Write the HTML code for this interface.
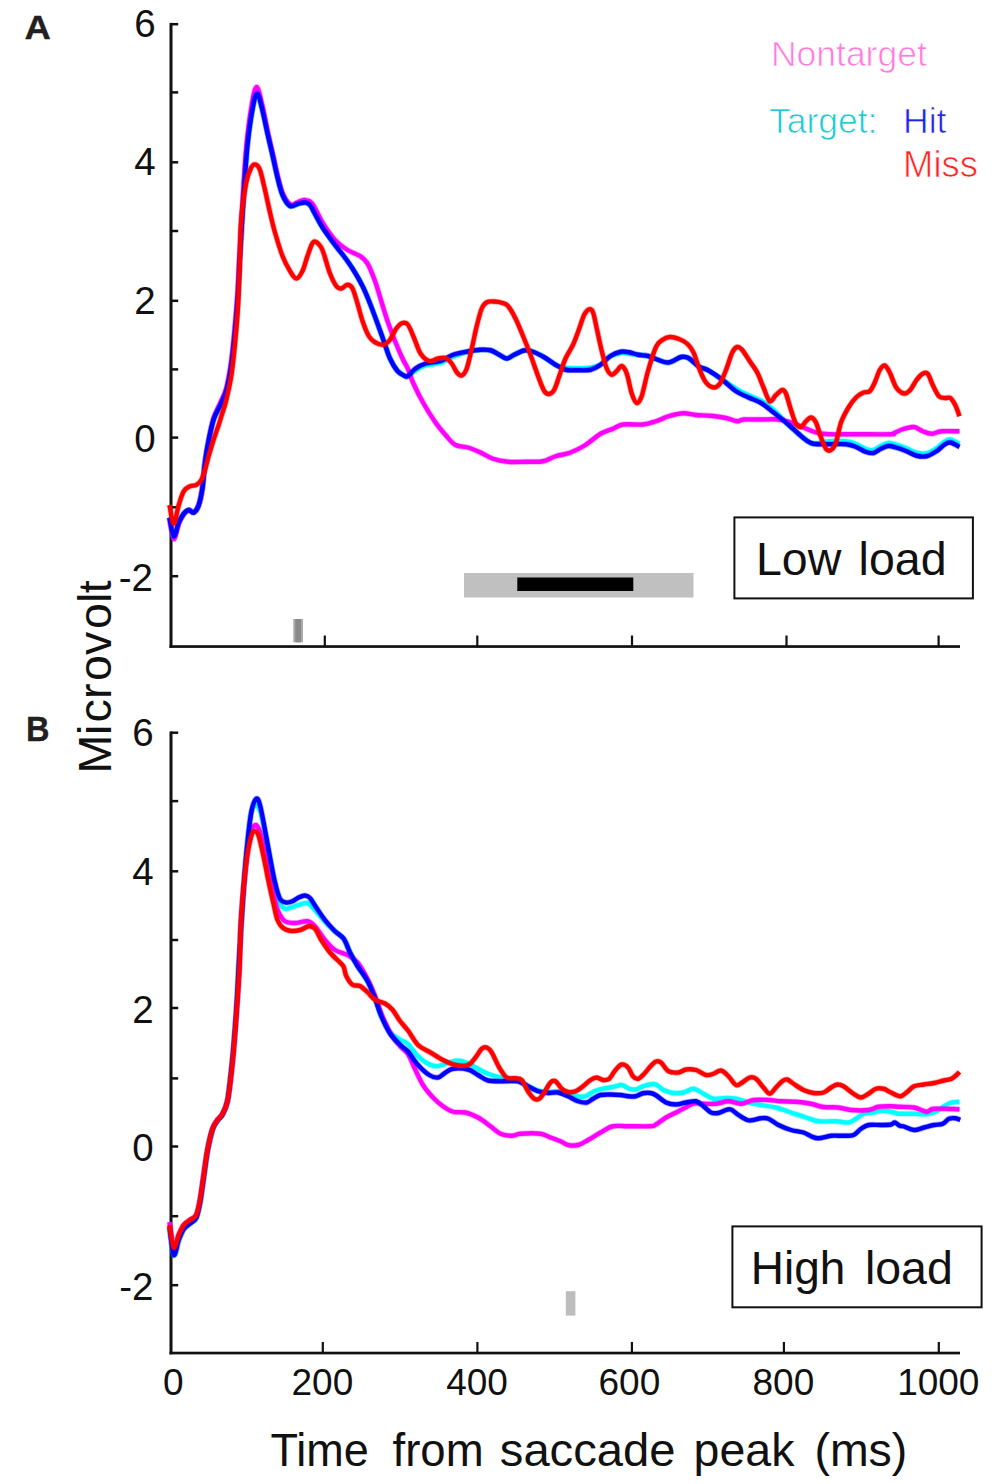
<!DOCTYPE html>
<html><head><meta charset="utf-8"><title>ERP figure</title>
<style>
html,body{margin:0;padding:0;background:#fff;overflow:hidden}
svg{display:block;font-family:"Liberation Sans",sans-serif;}
</style></head>
<body>
<svg width="992" height="1484" viewBox="0 0 992 1484">
<rect width="992" height="1484" fill="#fff"/>
<rect x="169.5" y="22.9" width="3" height="624.9" fill="#111"/><rect x="169.5" y="645.2" width="790.5" height="2.7" fill="#111"/><rect x="171" y="22.95" width="7.2" height="2.5" fill="#111"/><rect x="171" y="91.15" width="7.2" height="2.5" fill="#111"/><rect x="171" y="161.05" width="7.2" height="2.5" fill="#111"/><rect x="171" y="229.75" width="7.2" height="2.5" fill="#111"/><rect x="171" y="299.55" width="7.2" height="2.5" fill="#111"/><rect x="171" y="368.15" width="7.2" height="2.5" fill="#111"/><rect x="171" y="436.35" width="7.2" height="2.5" fill="#111"/><rect x="171" y="506.05" width="7.2" height="2.5" fill="#111"/><rect x="171" y="574.95" width="7.2" height="2.5" fill="#111"/><rect x="323.7" y="635.5" width="2.2" height="11" fill="#111"/><rect x="476.2" y="635.5" width="2.2" height="11" fill="#111"/><rect x="630.9" y="635.5" width="2.2" height="11" fill="#111"/><rect x="785.4" y="635.5" width="2.2" height="11" fill="#111"/><rect x="937.5" y="635.5" width="2.2" height="11" fill="#111"/>
<rect x="169.5" y="731.4" width="3" height="622.9" fill="#111"/><rect x="169.5" y="1351.7" width="790.5" height="2.7" fill="#111"/><rect x="171" y="731.45" width="7.2" height="2.5" fill="#111"/><rect x="171" y="799.85" width="7.2" height="2.5" fill="#111"/><rect x="171" y="870.05" width="7.2" height="2.5" fill="#111"/><rect x="171" y="938.75" width="7.2" height="2.5" fill="#111"/><rect x="171" y="1006.75" width="7.2" height="2.5" fill="#111"/><rect x="171" y="1077.15" width="7.2" height="2.5" fill="#111"/><rect x="171" y="1145.25" width="7.2" height="2.5" fill="#111"/><rect x="171" y="1214.95" width="7.2" height="2.5" fill="#111"/><rect x="171" y="1283.95" width="7.2" height="2.5" fill="#111"/><rect x="321.7" y="1342.0" width="2.2" height="11" fill="#111"/><rect x="476.3" y="1342.0" width="2.2" height="11" fill="#111"/><rect x="630.8" y="1342.0" width="2.2" height="11" fill="#111"/><rect x="782.8" y="1342.0" width="2.2" height="11" fill="#111"/><rect x="937.7" y="1342.0" width="2.2" height="11" fill="#111"/>
<rect x="464" y="573" width="229.5" height="24.5" fill="#c0c0c0"/>
<rect x="517.3" y="577.5" width="116" height="13.5" fill="#000"/>
<rect x="293.3" y="619" width="9.7" height="23.3" fill="#aaaaaa"/>
<rect x="295.3" y="619" width="5.7" height="23.3" fill="#8a8a8a"/>
<rect x="565.8" y="1291.2" width="9.6" height="24.4" fill="#bdbdbd"/>
<path d="M169.50,517.50C170.21,520.62 172.21,535.42 173.75,536.25C175.29,537.08 177.08,526.25 178.75,522.50C180.42,518.75 182.08,515.83 183.75,513.75C185.42,511.67 187.08,510.21 188.75,510.00C190.42,509.79 192.08,513.33 193.75,512.50C195.42,511.67 197.29,509.17 198.75,505.00C200.21,500.83 201.46,494.58 202.50,487.50C203.54,480.42 203.96,470.42 205.00,462.50C206.04,454.58 207.29,447.25 208.75,440.00C210.21,432.75 211.88,424.67 213.75,419.00C215.62,413.33 217.92,410.67 220.00,406.00C222.08,401.33 224.38,397.67 226.25,391.00C228.12,384.33 229.79,375.83 231.25,366.00C232.71,356.17 233.88,343.83 235.00,332.00C236.12,320.17 237.17,307.67 238.00,295.00C238.83,282.33 239.04,272.67 240.00,256.00C240.96,239.33 242.50,213.50 243.75,195.00C245.00,176.50 245.99,159.58 247.50,145.00C249.01,130.42 251.20,116.08 252.80,107.50C254.40,98.92 255.60,93.50 257.10,93.50C258.60,93.50 260.10,101.00 261.80,107.50C263.50,114.00 265.52,124.58 267.30,132.50C269.08,140.42 270.80,147.50 272.50,155.00C274.20,162.50 275.83,170.83 277.50,177.50C279.17,184.17 280.42,190.25 282.50,195.00C284.58,199.75 287.50,204.50 290.00,206.00C292.50,207.50 295.00,204.58 297.50,204.00C300.00,203.42 302.92,202.33 305.00,202.50C307.08,202.67 308.33,203.08 310.00,205.00C311.67,206.92 312.92,210.25 315.00,214.00C317.08,217.75 319.17,222.33 322.50,227.50C325.83,232.67 331.46,240.25 335.00,245.00C338.54,249.75 340.83,252.08 343.75,256.00C346.67,259.92 349.38,263.50 352.50,268.50C355.62,273.50 359.58,280.17 362.50,286.00C365.42,291.83 367.50,297.25 370.00,303.50C372.50,309.75 375.21,317.25 377.50,323.50C379.79,329.75 381.67,335.17 383.75,341.00C385.83,346.83 387.71,353.50 390.00,358.50C392.29,363.50 395.00,368.08 397.50,371.00C400.00,373.92 403.25,375.17 405.00,376.00C406.75,376.83 406.25,376.92 408.00,376.00C409.75,375.08 412.58,372.25 415.50,370.50C418.42,368.75 421.33,366.75 425.50,365.50C429.67,364.25 435.92,364.46 440.50,363.00C445.08,361.54 448.42,358.67 453.00,356.75C457.58,354.83 463.42,352.67 468.00,351.50C472.58,350.33 476.75,349.96 480.50,349.75C484.25,349.54 487.38,349.42 490.50,350.25C493.62,351.08 496.54,353.38 499.25,354.75C501.96,356.12 504.25,358.50 506.75,358.50C509.25,358.50 511.33,356.08 514.25,354.75C517.17,353.42 521.12,351.00 524.25,350.50C527.38,350.00 529.67,350.62 533.00,351.75C536.33,352.88 540.50,355.08 544.25,357.25C548.00,359.42 551.96,363.00 555.50,364.75C559.04,366.50 561.75,367.17 565.50,367.75C569.25,368.33 573.83,368.25 578.00,368.25C582.17,368.25 586.75,368.33 590.50,367.75C594.25,367.17 597.17,366.71 600.50,364.75C603.83,362.79 607.17,357.92 610.50,356.00C613.83,354.08 617.38,353.62 620.50,353.25C623.62,352.88 626.33,353.50 629.25,353.75C632.17,354.00 634.88,354.38 638.00,354.75C641.12,355.12 645.00,355.29 648.00,356.00C651.00,356.71 652.58,357.92 656.00,359.00C659.42,360.08 664.33,362.83 668.50,362.50C672.67,362.17 677.67,357.75 681.00,357.00C684.33,356.25 685.58,356.46 688.50,358.00C691.42,359.54 695.17,364.17 698.50,366.25C701.83,368.33 704.75,368.42 708.50,370.50C712.25,372.58 716.28,375.62 721.00,378.75C725.72,381.88 732.08,386.46 736.80,389.25C741.52,392.04 745.13,393.54 749.30,395.50C753.47,397.46 757.63,398.50 761.80,401.00C765.97,403.50 770.27,406.92 774.30,410.50C778.33,414.08 781.97,418.62 786.00,422.50C790.03,426.38 795.17,430.83 798.50,433.75C801.83,436.67 803.50,438.33 806.00,440.00C808.50,441.67 809.75,443.54 813.50,443.75C817.25,443.96 823.08,441.67 828.50,441.25C833.92,440.83 841.42,440.79 846.00,441.25C850.58,441.71 852.67,442.71 856.00,444.00C859.33,445.29 863.08,448.00 866.00,449.00C868.92,450.00 871.00,450.54 873.50,450.00C876.00,449.46 878.50,446.92 881.00,445.75C883.50,444.58 886.00,443.21 888.50,443.00C891.00,442.79 893.00,443.62 896.00,444.50C899.00,445.38 903.08,446.88 906.50,448.25C909.92,449.62 913.17,451.92 916.50,452.75C919.83,453.58 923.17,454.00 926.50,453.25C929.83,452.50 933.58,450.12 936.50,448.25C939.42,446.38 941.71,443.46 944.00,442.00C946.29,440.54 947.67,439.17 950.25,439.50C952.83,439.83 957.96,443.25 959.50,444.00" fill="none" stroke="#00ffff" stroke-opacity="0.3" stroke-width="6.0" stroke-linejoin="round" stroke-linecap="butt"/><path d="M169.50,517.50C170.21,520.62 172.21,535.42 173.75,536.25C175.29,537.08 177.08,526.25 178.75,522.50C180.42,518.75 182.08,515.83 183.75,513.75C185.42,511.67 187.08,510.21 188.75,510.00C190.42,509.79 192.08,513.33 193.75,512.50C195.42,511.67 197.29,509.17 198.75,505.00C200.21,500.83 201.46,494.58 202.50,487.50C203.54,480.42 203.96,470.42 205.00,462.50C206.04,454.58 207.29,447.25 208.75,440.00C210.21,432.75 211.88,424.67 213.75,419.00C215.62,413.33 217.92,410.67 220.00,406.00C222.08,401.33 224.38,397.67 226.25,391.00C228.12,384.33 229.79,375.83 231.25,366.00C232.71,356.17 233.88,343.83 235.00,332.00C236.12,320.17 237.17,307.67 238.00,295.00C238.83,282.33 239.04,272.67 240.00,256.00C240.96,239.33 242.50,213.50 243.75,195.00C245.00,176.50 245.99,159.58 247.50,145.00C249.01,130.42 251.20,116.08 252.80,107.50C254.40,98.92 255.60,93.50 257.10,93.50C258.60,93.50 260.10,101.00 261.80,107.50C263.50,114.00 265.52,124.58 267.30,132.50C269.08,140.42 270.80,147.50 272.50,155.00C274.20,162.50 275.83,170.83 277.50,177.50C279.17,184.17 280.42,190.25 282.50,195.00C284.58,199.75 287.50,204.50 290.00,206.00C292.50,207.50 295.00,204.58 297.50,204.00C300.00,203.42 302.92,202.33 305.00,202.50C307.08,202.67 308.33,203.08 310.00,205.00C311.67,206.92 312.92,210.25 315.00,214.00C317.08,217.75 319.17,222.33 322.50,227.50C325.83,232.67 331.46,240.25 335.00,245.00C338.54,249.75 340.83,252.08 343.75,256.00C346.67,259.92 349.38,263.50 352.50,268.50C355.62,273.50 359.58,280.17 362.50,286.00C365.42,291.83 367.50,297.25 370.00,303.50C372.50,309.75 375.21,317.25 377.50,323.50C379.79,329.75 381.67,335.17 383.75,341.00C385.83,346.83 387.71,353.50 390.00,358.50C392.29,363.50 395.00,368.08 397.50,371.00C400.00,373.92 403.25,375.17 405.00,376.00C406.75,376.83 406.25,376.92 408.00,376.00C409.75,375.08 412.58,372.25 415.50,370.50C418.42,368.75 421.33,366.75 425.50,365.50C429.67,364.25 435.92,364.46 440.50,363.00C445.08,361.54 448.42,358.67 453.00,356.75C457.58,354.83 463.42,352.67 468.00,351.50C472.58,350.33 476.75,349.96 480.50,349.75C484.25,349.54 487.38,349.42 490.50,350.25C493.62,351.08 496.54,353.38 499.25,354.75C501.96,356.12 504.25,358.50 506.75,358.50C509.25,358.50 511.33,356.08 514.25,354.75C517.17,353.42 521.12,351.00 524.25,350.50C527.38,350.00 529.67,350.62 533.00,351.75C536.33,352.88 540.50,355.08 544.25,357.25C548.00,359.42 551.96,363.00 555.50,364.75C559.04,366.50 561.75,367.17 565.50,367.75C569.25,368.33 573.83,368.25 578.00,368.25C582.17,368.25 586.75,368.33 590.50,367.75C594.25,367.17 597.17,366.71 600.50,364.75C603.83,362.79 607.17,357.92 610.50,356.00C613.83,354.08 617.38,353.62 620.50,353.25C623.62,352.88 626.33,353.50 629.25,353.75C632.17,354.00 634.88,354.38 638.00,354.75C641.12,355.12 645.00,355.29 648.00,356.00C651.00,356.71 652.58,357.92 656.00,359.00C659.42,360.08 664.33,362.83 668.50,362.50C672.67,362.17 677.67,357.75 681.00,357.00C684.33,356.25 685.58,356.46 688.50,358.00C691.42,359.54 695.17,364.17 698.50,366.25C701.83,368.33 704.75,368.42 708.50,370.50C712.25,372.58 716.28,375.62 721.00,378.75C725.72,381.88 732.08,386.46 736.80,389.25C741.52,392.04 745.13,393.54 749.30,395.50C753.47,397.46 757.63,398.50 761.80,401.00C765.97,403.50 770.27,406.92 774.30,410.50C778.33,414.08 781.97,418.62 786.00,422.50C790.03,426.38 795.17,430.83 798.50,433.75C801.83,436.67 803.50,438.33 806.00,440.00C808.50,441.67 809.75,443.54 813.50,443.75C817.25,443.96 823.08,441.67 828.50,441.25C833.92,440.83 841.42,440.79 846.00,441.25C850.58,441.71 852.67,442.71 856.00,444.00C859.33,445.29 863.08,448.00 866.00,449.00C868.92,450.00 871.00,450.54 873.50,450.00C876.00,449.46 878.50,446.92 881.00,445.75C883.50,444.58 886.00,443.21 888.50,443.00C891.00,442.79 893.00,443.62 896.00,444.50C899.00,445.38 903.08,446.88 906.50,448.25C909.92,449.62 913.17,451.92 916.50,452.75C919.83,453.58 923.17,454.00 926.50,453.25C929.83,452.50 933.58,450.12 936.50,448.25C939.42,446.38 941.71,443.46 944.00,442.00C946.29,440.54 947.67,439.17 950.25,439.50C952.83,439.83 957.96,443.25 959.50,444.00" fill="none" stroke="#00ffff" stroke-width="4.4" stroke-linejoin="round" stroke-linecap="butt"/>
<path d="M169.50,518.00C170.21,521.50 172.21,538.00 173.75,539.00C175.29,540.00 177.08,528.17 178.75,524.00C180.42,519.83 182.08,516.33 183.75,514.00C185.42,511.67 187.08,510.25 188.75,510.00C190.42,509.75 192.08,513.33 193.75,512.50C195.42,511.67 197.29,509.17 198.75,505.00C200.21,500.83 201.46,494.58 202.50,487.50C203.54,480.42 203.96,470.42 205.00,462.50C206.04,454.58 207.29,447.42 208.75,440.00C210.21,432.58 211.88,424.08 213.75,418.00C215.62,411.92 217.92,408.42 220.00,403.50C222.08,398.58 224.42,395.17 226.25,388.50C228.08,381.83 229.62,373.08 231.00,363.50C232.38,353.92 233.42,342.42 234.50,331.00C235.58,319.58 236.67,307.50 237.50,295.00C238.33,282.50 238.58,272.67 239.50,256.00C240.42,239.33 241.83,213.50 243.00,195.00C244.17,176.50 245.02,160.17 246.50,145.00C247.98,129.83 250.22,113.67 251.90,104.00C253.58,94.33 254.92,87.00 256.60,87.00C258.28,87.00 260.13,96.42 262.00,104.00C263.87,111.58 265.97,124.00 267.80,132.50C269.63,141.00 271.30,147.50 273.00,155.00C274.70,162.50 276.33,171.00 278.00,177.50C279.67,184.00 280.92,189.50 283.00,194.00C285.08,198.50 288.00,203.17 290.50,204.50C293.00,205.83 295.58,202.75 298.00,202.00C300.42,201.25 302.58,199.71 305.00,200.00C307.42,200.29 309.58,200.00 312.50,203.75C315.42,207.50 318.75,216.46 322.50,222.50C326.25,228.54 330.83,235.42 335.00,240.00C339.17,244.58 343.33,247.33 347.50,250.00C351.67,252.67 356.67,253.75 360.00,256.00C363.33,258.25 365.00,259.33 367.50,263.50C370.00,267.67 372.71,274.75 375.00,281.00C377.29,287.25 379.17,294.33 381.25,301.00C383.33,307.67 385.21,314.33 387.50,321.00C389.79,327.67 392.50,334.75 395.00,341.00C397.50,347.25 400.33,353.83 402.50,358.50C404.67,363.17 406.25,365.00 408.00,369.00C409.75,373.00 410.50,376.92 413.00,382.50C415.50,388.08 419.25,395.83 423.00,402.50C426.75,409.17 431.75,417.08 435.50,422.50C439.25,427.92 442.17,431.25 445.50,435.00C448.83,438.75 451.75,442.92 455.50,445.00C459.25,447.08 463.83,446.25 468.00,447.50C472.17,448.75 476.33,450.62 480.50,452.50C484.67,454.38 488.42,457.21 493.00,458.75C497.58,460.29 502.58,461.25 508.00,461.75C513.42,462.25 519.67,461.83 525.50,461.75C531.33,461.67 538.00,462.17 543.00,461.25C548.00,460.33 550.92,457.71 555.50,456.25C560.08,454.79 565.50,454.38 570.50,452.50C575.50,450.62 580.50,448.12 585.50,445.00C590.50,441.88 595.92,436.46 600.50,433.75C605.08,431.04 609.25,430.29 613.00,428.75C616.75,427.21 618.00,425.21 623.00,424.50C628.00,423.79 637.50,425.04 643.00,424.50C648.50,423.96 651.75,422.62 656.00,421.25C660.25,419.88 663.92,417.58 668.50,416.25C673.08,414.92 678.92,413.46 683.50,413.25C688.08,413.04 691.42,414.58 696.00,415.00C700.58,415.42 706.00,415.25 711.00,415.75C716.00,416.25 721.62,417.08 726.00,418.00C730.38,418.92 734.33,421.00 737.25,421.25C740.17,421.50 739.54,419.79 743.50,419.50C747.46,419.21 755.17,419.50 761.00,419.50C766.83,419.50 773.50,419.00 778.50,419.50C783.50,420.00 786.83,421.17 791.00,422.50C795.17,423.83 799.33,425.83 803.50,427.50C807.67,429.17 811.83,431.38 816.00,432.50C820.17,433.62 821.83,433.96 828.50,434.25C835.17,434.54 845.58,434.25 856.00,434.25C866.42,434.25 884.67,434.46 891.00,434.25C897.33,434.04 891.83,433.92 894.00,433.00C896.17,432.08 900.67,429.75 904.00,428.75C907.33,427.75 910.88,426.58 914.00,427.00C917.12,427.42 919.83,430.12 922.75,431.25C925.67,432.38 928.38,433.75 931.50,433.75C934.62,433.75 936.83,431.67 941.50,431.25C946.17,430.83 956.50,431.25 959.50,431.25" fill="none" stroke="#ff00ff" stroke-opacity="0.3" stroke-width="6.0" stroke-linejoin="round" stroke-linecap="butt"/><path d="M169.50,518.00C170.21,521.50 172.21,538.00 173.75,539.00C175.29,540.00 177.08,528.17 178.75,524.00C180.42,519.83 182.08,516.33 183.75,514.00C185.42,511.67 187.08,510.25 188.75,510.00C190.42,509.75 192.08,513.33 193.75,512.50C195.42,511.67 197.29,509.17 198.75,505.00C200.21,500.83 201.46,494.58 202.50,487.50C203.54,480.42 203.96,470.42 205.00,462.50C206.04,454.58 207.29,447.42 208.75,440.00C210.21,432.58 211.88,424.08 213.75,418.00C215.62,411.92 217.92,408.42 220.00,403.50C222.08,398.58 224.42,395.17 226.25,388.50C228.08,381.83 229.62,373.08 231.00,363.50C232.38,353.92 233.42,342.42 234.50,331.00C235.58,319.58 236.67,307.50 237.50,295.00C238.33,282.50 238.58,272.67 239.50,256.00C240.42,239.33 241.83,213.50 243.00,195.00C244.17,176.50 245.02,160.17 246.50,145.00C247.98,129.83 250.22,113.67 251.90,104.00C253.58,94.33 254.92,87.00 256.60,87.00C258.28,87.00 260.13,96.42 262.00,104.00C263.87,111.58 265.97,124.00 267.80,132.50C269.63,141.00 271.30,147.50 273.00,155.00C274.70,162.50 276.33,171.00 278.00,177.50C279.67,184.00 280.92,189.50 283.00,194.00C285.08,198.50 288.00,203.17 290.50,204.50C293.00,205.83 295.58,202.75 298.00,202.00C300.42,201.25 302.58,199.71 305.00,200.00C307.42,200.29 309.58,200.00 312.50,203.75C315.42,207.50 318.75,216.46 322.50,222.50C326.25,228.54 330.83,235.42 335.00,240.00C339.17,244.58 343.33,247.33 347.50,250.00C351.67,252.67 356.67,253.75 360.00,256.00C363.33,258.25 365.00,259.33 367.50,263.50C370.00,267.67 372.71,274.75 375.00,281.00C377.29,287.25 379.17,294.33 381.25,301.00C383.33,307.67 385.21,314.33 387.50,321.00C389.79,327.67 392.50,334.75 395.00,341.00C397.50,347.25 400.33,353.83 402.50,358.50C404.67,363.17 406.25,365.00 408.00,369.00C409.75,373.00 410.50,376.92 413.00,382.50C415.50,388.08 419.25,395.83 423.00,402.50C426.75,409.17 431.75,417.08 435.50,422.50C439.25,427.92 442.17,431.25 445.50,435.00C448.83,438.75 451.75,442.92 455.50,445.00C459.25,447.08 463.83,446.25 468.00,447.50C472.17,448.75 476.33,450.62 480.50,452.50C484.67,454.38 488.42,457.21 493.00,458.75C497.58,460.29 502.58,461.25 508.00,461.75C513.42,462.25 519.67,461.83 525.50,461.75C531.33,461.67 538.00,462.17 543.00,461.25C548.00,460.33 550.92,457.71 555.50,456.25C560.08,454.79 565.50,454.38 570.50,452.50C575.50,450.62 580.50,448.12 585.50,445.00C590.50,441.88 595.92,436.46 600.50,433.75C605.08,431.04 609.25,430.29 613.00,428.75C616.75,427.21 618.00,425.21 623.00,424.50C628.00,423.79 637.50,425.04 643.00,424.50C648.50,423.96 651.75,422.62 656.00,421.25C660.25,419.88 663.92,417.58 668.50,416.25C673.08,414.92 678.92,413.46 683.50,413.25C688.08,413.04 691.42,414.58 696.00,415.00C700.58,415.42 706.00,415.25 711.00,415.75C716.00,416.25 721.62,417.08 726.00,418.00C730.38,418.92 734.33,421.00 737.25,421.25C740.17,421.50 739.54,419.79 743.50,419.50C747.46,419.21 755.17,419.50 761.00,419.50C766.83,419.50 773.50,419.00 778.50,419.50C783.50,420.00 786.83,421.17 791.00,422.50C795.17,423.83 799.33,425.83 803.50,427.50C807.67,429.17 811.83,431.38 816.00,432.50C820.17,433.62 821.83,433.96 828.50,434.25C835.17,434.54 845.58,434.25 856.00,434.25C866.42,434.25 884.67,434.46 891.00,434.25C897.33,434.04 891.83,433.92 894.00,433.00C896.17,432.08 900.67,429.75 904.00,428.75C907.33,427.75 910.88,426.58 914.00,427.00C917.12,427.42 919.83,430.12 922.75,431.25C925.67,432.38 928.38,433.75 931.50,433.75C934.62,433.75 936.83,431.67 941.50,431.25C946.17,430.83 956.50,431.25 959.50,431.25" fill="none" stroke="#ff00ff" stroke-width="4.4" stroke-linejoin="round" stroke-linecap="butt"/>
<path d="M169.50,517.50C170.21,520.62 172.21,535.42 173.75,536.25C175.29,537.08 177.08,526.25 178.75,522.50C180.42,518.75 182.08,515.83 183.75,513.75C185.42,511.67 187.08,510.21 188.75,510.00C190.42,509.79 192.08,513.33 193.75,512.50C195.42,511.67 197.29,509.17 198.75,505.00C200.21,500.83 201.46,494.58 202.50,487.50C203.54,480.42 203.96,470.42 205.00,462.50C206.04,454.58 207.29,447.25 208.75,440.00C210.21,432.75 211.88,424.67 213.75,419.00C215.62,413.33 217.92,410.67 220.00,406.00C222.08,401.33 224.38,397.67 226.25,391.00C228.12,384.33 229.79,375.83 231.25,366.00C232.71,356.17 233.88,343.83 235.00,332.00C236.12,320.17 237.17,307.67 238.00,295.00C238.83,282.33 239.04,272.67 240.00,256.00C240.96,239.33 242.50,213.50 243.75,195.00C245.00,176.50 245.99,159.58 247.50,145.00C249.01,130.42 251.20,116.08 252.80,107.50C254.40,98.92 255.60,93.50 257.10,93.50C258.60,93.50 260.10,101.00 261.80,107.50C263.50,114.00 265.52,124.58 267.30,132.50C269.08,140.42 270.80,147.50 272.50,155.00C274.20,162.50 275.83,170.83 277.50,177.50C279.17,184.17 280.42,190.25 282.50,195.00C284.58,199.75 287.50,204.50 290.00,206.00C292.50,207.50 295.00,204.58 297.50,204.00C300.00,203.42 302.92,202.33 305.00,202.50C307.08,202.67 308.33,203.08 310.00,205.00C311.67,206.92 312.92,210.25 315.00,214.00C317.08,217.75 319.17,222.33 322.50,227.50C325.83,232.67 331.46,240.25 335.00,245.00C338.54,249.75 340.83,252.08 343.75,256.00C346.67,259.92 349.38,263.50 352.50,268.50C355.62,273.50 359.58,280.17 362.50,286.00C365.42,291.83 367.50,297.25 370.00,303.50C372.50,309.75 375.21,317.25 377.50,323.50C379.79,329.75 381.67,335.17 383.75,341.00C385.83,346.83 387.71,353.50 390.00,358.50C392.29,363.50 395.00,368.08 397.50,371.00C400.00,373.92 403.25,375.17 405.00,376.00C406.75,376.83 406.25,377.25 408.00,376.00C409.75,374.75 412.58,370.58 415.50,368.50C418.42,366.42 421.33,364.75 425.50,363.50C429.67,362.25 435.92,362.46 440.50,361.00C445.08,359.54 448.42,356.33 453.00,354.75C457.58,353.17 463.42,352.33 468.00,351.50C472.58,350.67 476.75,349.96 480.50,349.75C484.25,349.54 487.38,349.42 490.50,350.25C493.62,351.08 496.54,353.38 499.25,354.75C501.96,356.12 504.25,358.50 506.75,358.50C509.25,358.50 511.33,356.08 514.25,354.75C517.17,353.42 521.12,351.00 524.25,350.50C527.38,350.00 529.67,350.62 533.00,351.75C536.33,352.88 540.50,355.08 544.25,357.25C548.00,359.42 551.96,362.67 555.50,364.75C559.04,366.83 561.75,368.83 565.50,369.75C569.25,370.67 573.83,370.25 578.00,370.25C582.17,370.25 586.75,370.67 590.50,369.75C594.25,368.83 597.17,367.04 600.50,364.75C603.83,362.46 607.17,358.17 610.50,356.00C613.83,353.83 617.38,352.38 620.50,351.75C623.62,351.12 626.33,351.75 629.25,352.25C632.17,352.75 634.88,354.12 638.00,354.75C641.12,355.38 645.00,355.29 648.00,356.00C651.00,356.71 652.58,357.92 656.00,359.00C659.42,360.08 664.33,362.83 668.50,362.50C672.67,362.17 677.67,357.75 681.00,357.00C684.33,356.25 685.58,356.46 688.50,358.00C691.42,359.54 695.17,364.17 698.50,366.25C701.83,368.33 704.75,368.42 708.50,370.50C712.25,372.58 716.42,375.29 721.00,378.75C725.58,382.21 731.42,388.12 736.00,391.25C740.58,394.38 744.33,395.54 748.50,397.50C752.67,399.46 756.83,400.50 761.00,403.00C765.17,405.50 769.33,409.25 773.50,412.50C777.67,415.75 781.83,418.96 786.00,422.50C790.17,426.04 795.17,430.83 798.50,433.75C801.83,436.67 803.50,438.33 806.00,440.00C808.50,441.67 809.75,443.04 813.50,443.75C817.25,444.46 823.08,444.17 828.50,444.25C833.92,444.33 841.42,443.79 846.00,444.25C850.58,444.71 852.67,445.71 856.00,447.00C859.33,448.29 863.08,451.00 866.00,452.00C868.92,453.00 871.00,453.54 873.50,453.00C876.00,452.46 878.50,449.92 881.00,448.75C883.50,447.58 886.00,446.21 888.50,446.00C891.00,445.79 893.00,446.62 896.00,447.50C899.00,448.38 903.08,449.88 906.50,451.25C909.92,452.62 913.17,454.92 916.50,455.75C919.83,456.58 923.17,457.00 926.50,456.25C929.83,455.50 933.58,453.12 936.50,451.25C939.42,449.38 941.71,446.46 944.00,445.00C946.29,443.54 947.67,442.17 950.25,442.50C952.83,442.83 957.96,446.25 959.50,447.00" fill="none" stroke="#0000ff" stroke-opacity="0.3" stroke-width="6.0" stroke-linejoin="round" stroke-linecap="butt"/><path d="M169.50,517.50C170.21,520.62 172.21,535.42 173.75,536.25C175.29,537.08 177.08,526.25 178.75,522.50C180.42,518.75 182.08,515.83 183.75,513.75C185.42,511.67 187.08,510.21 188.75,510.00C190.42,509.79 192.08,513.33 193.75,512.50C195.42,511.67 197.29,509.17 198.75,505.00C200.21,500.83 201.46,494.58 202.50,487.50C203.54,480.42 203.96,470.42 205.00,462.50C206.04,454.58 207.29,447.25 208.75,440.00C210.21,432.75 211.88,424.67 213.75,419.00C215.62,413.33 217.92,410.67 220.00,406.00C222.08,401.33 224.38,397.67 226.25,391.00C228.12,384.33 229.79,375.83 231.25,366.00C232.71,356.17 233.88,343.83 235.00,332.00C236.12,320.17 237.17,307.67 238.00,295.00C238.83,282.33 239.04,272.67 240.00,256.00C240.96,239.33 242.50,213.50 243.75,195.00C245.00,176.50 245.99,159.58 247.50,145.00C249.01,130.42 251.20,116.08 252.80,107.50C254.40,98.92 255.60,93.50 257.10,93.50C258.60,93.50 260.10,101.00 261.80,107.50C263.50,114.00 265.52,124.58 267.30,132.50C269.08,140.42 270.80,147.50 272.50,155.00C274.20,162.50 275.83,170.83 277.50,177.50C279.17,184.17 280.42,190.25 282.50,195.00C284.58,199.75 287.50,204.50 290.00,206.00C292.50,207.50 295.00,204.58 297.50,204.00C300.00,203.42 302.92,202.33 305.00,202.50C307.08,202.67 308.33,203.08 310.00,205.00C311.67,206.92 312.92,210.25 315.00,214.00C317.08,217.75 319.17,222.33 322.50,227.50C325.83,232.67 331.46,240.25 335.00,245.00C338.54,249.75 340.83,252.08 343.75,256.00C346.67,259.92 349.38,263.50 352.50,268.50C355.62,273.50 359.58,280.17 362.50,286.00C365.42,291.83 367.50,297.25 370.00,303.50C372.50,309.75 375.21,317.25 377.50,323.50C379.79,329.75 381.67,335.17 383.75,341.00C385.83,346.83 387.71,353.50 390.00,358.50C392.29,363.50 395.00,368.08 397.50,371.00C400.00,373.92 403.25,375.17 405.00,376.00C406.75,376.83 406.25,377.25 408.00,376.00C409.75,374.75 412.58,370.58 415.50,368.50C418.42,366.42 421.33,364.75 425.50,363.50C429.67,362.25 435.92,362.46 440.50,361.00C445.08,359.54 448.42,356.33 453.00,354.75C457.58,353.17 463.42,352.33 468.00,351.50C472.58,350.67 476.75,349.96 480.50,349.75C484.25,349.54 487.38,349.42 490.50,350.25C493.62,351.08 496.54,353.38 499.25,354.75C501.96,356.12 504.25,358.50 506.75,358.50C509.25,358.50 511.33,356.08 514.25,354.75C517.17,353.42 521.12,351.00 524.25,350.50C527.38,350.00 529.67,350.62 533.00,351.75C536.33,352.88 540.50,355.08 544.25,357.25C548.00,359.42 551.96,362.67 555.50,364.75C559.04,366.83 561.75,368.83 565.50,369.75C569.25,370.67 573.83,370.25 578.00,370.25C582.17,370.25 586.75,370.67 590.50,369.75C594.25,368.83 597.17,367.04 600.50,364.75C603.83,362.46 607.17,358.17 610.50,356.00C613.83,353.83 617.38,352.38 620.50,351.75C623.62,351.12 626.33,351.75 629.25,352.25C632.17,352.75 634.88,354.12 638.00,354.75C641.12,355.38 645.00,355.29 648.00,356.00C651.00,356.71 652.58,357.92 656.00,359.00C659.42,360.08 664.33,362.83 668.50,362.50C672.67,362.17 677.67,357.75 681.00,357.00C684.33,356.25 685.58,356.46 688.50,358.00C691.42,359.54 695.17,364.17 698.50,366.25C701.83,368.33 704.75,368.42 708.50,370.50C712.25,372.58 716.42,375.29 721.00,378.75C725.58,382.21 731.42,388.12 736.00,391.25C740.58,394.38 744.33,395.54 748.50,397.50C752.67,399.46 756.83,400.50 761.00,403.00C765.17,405.50 769.33,409.25 773.50,412.50C777.67,415.75 781.83,418.96 786.00,422.50C790.17,426.04 795.17,430.83 798.50,433.75C801.83,436.67 803.50,438.33 806.00,440.00C808.50,441.67 809.75,443.04 813.50,443.75C817.25,444.46 823.08,444.17 828.50,444.25C833.92,444.33 841.42,443.79 846.00,444.25C850.58,444.71 852.67,445.71 856.00,447.00C859.33,448.29 863.08,451.00 866.00,452.00C868.92,453.00 871.00,453.54 873.50,453.00C876.00,452.46 878.50,449.92 881.00,448.75C883.50,447.58 886.00,446.21 888.50,446.00C891.00,445.79 893.00,446.62 896.00,447.50C899.00,448.38 903.08,449.88 906.50,451.25C909.92,452.62 913.17,454.92 916.50,455.75C919.83,456.58 923.17,457.00 926.50,456.25C929.83,455.50 933.58,453.12 936.50,451.25C939.42,449.38 941.71,446.46 944.00,445.00C946.29,443.54 947.67,442.17 950.25,442.50C952.83,442.83 957.96,446.25 959.50,447.00" fill="none" stroke="#0000ff" stroke-width="4.4" stroke-linejoin="round" stroke-linecap="butt"/>
<path d="M169.50,505.00C170.21,508.12 172.21,523.75 173.75,523.75C175.29,523.75 177.08,510.42 178.75,505.00C180.42,499.58 181.88,494.38 183.75,491.25C185.62,488.12 187.92,487.29 190.00,486.25C192.08,485.21 194.38,486.04 196.25,485.00C198.12,483.96 199.79,482.50 201.25,480.00C202.71,477.50 203.71,474.17 205.00,470.00C206.29,465.83 207.58,460.00 209.00,455.00C210.42,450.00 211.92,444.92 213.50,440.00C215.08,435.08 217.08,429.83 218.50,425.50C219.92,421.17 220.78,417.92 222.00,414.00C223.22,410.08 224.26,408.33 225.80,402.00C227.34,395.67 229.72,385.75 231.25,376.00C232.78,366.25 233.88,355.17 235.00,343.50C236.12,331.83 237.17,320.58 238.00,306.00C238.83,291.42 239.46,270.33 240.00,256.00C240.54,241.67 240.21,232.25 241.25,220.00C242.29,207.75 244.58,191.25 246.25,182.50C247.92,173.75 249.67,170.50 251.25,167.50C252.83,164.50 254.29,164.08 255.75,164.50C257.21,164.92 258.46,165.75 260.00,170.00C261.54,174.25 263.33,182.92 265.00,190.00C266.67,197.08 268.33,205.42 270.00,212.50C271.67,219.58 272.92,225.25 275.00,232.50C277.08,239.75 280.00,249.58 282.50,256.00C285.00,262.42 287.71,267.25 290.00,271.00C292.29,274.75 294.17,278.50 296.25,278.50C298.33,278.50 300.62,274.75 302.50,271.00C304.38,267.25 305.83,260.67 307.50,256.00C309.17,251.33 311.04,245.33 312.50,243.00C313.96,240.67 314.79,241.25 316.25,242.00C317.71,242.75 319.88,245.17 321.25,247.50C322.62,249.83 323.04,251.67 324.50,256.00C325.96,260.33 328.04,268.50 330.00,273.50C331.96,278.50 334.38,283.50 336.25,286.00C338.12,288.50 339.38,288.71 341.25,288.50C343.12,288.29 345.62,284.75 347.50,284.75C349.38,284.75 350.83,285.38 352.50,288.50C354.17,291.62 355.83,298.08 357.50,303.50C359.17,308.92 360.62,315.58 362.50,321.00C364.38,326.42 366.67,332.46 368.75,336.00C370.83,339.54 372.50,340.79 375.00,342.25C377.50,343.71 381.25,345.17 383.75,344.75C386.25,344.33 387.92,342.46 390.00,339.75C392.08,337.04 394.17,331.29 396.25,328.50C398.33,325.71 400.54,323.62 402.50,323.00C404.46,322.38 406.04,322.17 408.00,324.75C409.96,327.33 412.17,333.71 414.25,338.50C416.33,343.29 418.00,349.75 420.50,353.50C423.00,357.25 426.33,360.17 429.25,361.00C432.17,361.83 435.29,359.00 438.00,358.50C440.71,358.00 443.21,357.17 445.50,358.00C447.79,358.83 449.88,361.12 451.75,363.50C453.62,365.88 455.08,370.25 456.75,372.25C458.42,374.25 460.08,376.12 461.75,375.50C463.42,374.88 465.08,373.00 466.75,368.50C468.42,364.00 470.08,355.58 471.75,348.50C473.42,341.42 475.08,332.67 476.75,326.00C478.42,319.33 480.08,312.46 481.75,308.50C483.42,304.54 484.67,303.42 486.75,302.25C488.83,301.08 491.75,301.42 494.25,301.50C496.75,301.58 499.46,302.00 501.75,302.75C504.04,303.50 505.71,303.38 508.00,306.00C510.29,308.62 513.00,313.50 515.50,318.50C518.00,323.50 520.50,329.96 523.00,336.00C525.50,342.04 528.00,348.08 530.50,354.75C533.00,361.42 535.71,369.96 538.00,376.00C540.29,382.04 542.38,388.00 544.25,391.00C546.12,394.00 547.58,394.21 549.25,394.00C550.92,393.79 552.58,392.75 554.25,389.75C555.92,386.75 557.38,381.21 559.25,376.00C561.12,370.79 563.21,363.71 565.50,358.50C567.79,353.29 570.71,349.75 573.00,344.75C575.29,339.75 577.38,333.50 579.25,328.50C581.12,323.50 582.58,317.96 584.25,314.75C585.92,311.54 587.79,309.67 589.25,309.25C590.71,308.83 591.75,309.04 593.00,312.25C594.25,315.46 595.29,322.04 596.75,328.50C598.21,334.96 600.08,344.33 601.75,351.00C603.42,357.67 605.08,364.54 606.75,368.50C608.42,372.46 610.08,374.33 611.75,374.75C613.42,375.17 615.08,372.46 616.75,371.00C618.42,369.54 620.08,365.58 621.75,366.00C623.42,366.42 625.08,368.92 626.75,373.50C628.42,378.08 630.08,388.58 631.75,393.50C633.42,398.42 635.08,402.58 636.75,403.00C638.42,403.42 639.88,401.33 641.75,396.00C643.62,390.67 645.62,379.17 648.00,371.00C650.38,362.83 653.62,352.17 656.00,347.00C658.38,341.83 659.96,341.67 662.25,340.00C664.54,338.33 667.04,337.21 669.75,337.00C672.46,336.79 675.58,337.62 678.50,338.75C681.42,339.88 684.75,341.46 687.25,343.75C689.75,346.04 691.42,348.12 693.50,352.50C695.58,356.88 697.67,365.00 699.75,370.00C701.83,375.00 703.71,379.58 706.00,382.50C708.29,385.42 711.21,387.29 713.50,387.50C715.79,387.71 717.67,386.67 719.75,383.75C721.83,380.83 723.92,375.21 726.00,370.00C728.08,364.79 730.38,356.33 732.25,352.50C734.12,348.67 735.58,347.42 737.25,347.00C738.92,346.58 740.17,347.62 742.25,350.00C744.33,352.38 747.25,357.50 749.75,361.25C752.25,365.00 754.96,368.12 757.25,372.50C759.54,376.88 761.42,382.71 763.50,387.50C765.58,392.29 767.67,400.00 769.75,401.25C771.83,402.50 773.92,396.88 776.00,395.00C778.08,393.12 780.58,390.21 782.25,390.00C783.92,389.79 784.54,390.42 786.00,393.75C787.46,397.08 789.33,405.00 791.00,410.00C792.67,415.00 794.33,420.92 796.00,423.75C797.67,426.58 799.33,427.42 801.00,427.00C802.67,426.58 804.33,422.83 806.00,421.25C807.67,419.67 809.33,417.29 811.00,417.50C812.67,417.71 814.33,419.17 816.00,422.50C817.67,425.83 819.33,433.12 821.00,437.50C822.67,441.88 824.33,446.67 826.00,448.75C827.67,450.83 829.33,451.04 831.00,450.00C832.67,448.96 834.33,447.08 836.00,442.50C837.67,437.92 838.92,428.33 841.00,422.50C843.08,416.67 846.00,411.67 848.50,407.50C851.00,403.33 853.50,400.00 856.00,397.50C858.50,395.00 861.21,393.54 863.50,392.50C865.79,391.46 867.88,392.92 869.75,391.25C871.62,389.58 873.08,386.04 874.75,382.50C876.42,378.96 878.08,372.83 879.75,370.00C881.42,367.17 883.08,365.08 884.75,365.50C886.42,365.92 887.83,368.83 889.75,372.50C891.67,376.17 893.88,384.00 896.25,387.50C898.62,391.00 901.67,393.08 904.00,393.50C906.33,393.92 908.17,392.25 910.25,390.00C912.33,387.75 914.42,382.71 916.50,380.00C918.58,377.29 920.88,374.79 922.75,373.75C924.62,372.71 926.08,371.88 927.75,373.75C929.42,375.62 930.88,381.25 932.75,385.00C934.62,388.75 936.92,394.08 939.00,396.25C941.08,398.42 943.38,397.71 945.25,398.00C947.12,398.29 948.58,396.83 950.25,398.00C951.92,399.17 953.71,401.96 955.25,405.00C956.79,408.04 958.79,414.38 959.50,416.25" fill="none" stroke="#ff0000" stroke-opacity="0.3" stroke-width="6.0" stroke-linejoin="round" stroke-linecap="butt"/><path d="M169.50,505.00C170.21,508.12 172.21,523.75 173.75,523.75C175.29,523.75 177.08,510.42 178.75,505.00C180.42,499.58 181.88,494.38 183.75,491.25C185.62,488.12 187.92,487.29 190.00,486.25C192.08,485.21 194.38,486.04 196.25,485.00C198.12,483.96 199.79,482.50 201.25,480.00C202.71,477.50 203.71,474.17 205.00,470.00C206.29,465.83 207.58,460.00 209.00,455.00C210.42,450.00 211.92,444.92 213.50,440.00C215.08,435.08 217.08,429.83 218.50,425.50C219.92,421.17 220.78,417.92 222.00,414.00C223.22,410.08 224.26,408.33 225.80,402.00C227.34,395.67 229.72,385.75 231.25,376.00C232.78,366.25 233.88,355.17 235.00,343.50C236.12,331.83 237.17,320.58 238.00,306.00C238.83,291.42 239.46,270.33 240.00,256.00C240.54,241.67 240.21,232.25 241.25,220.00C242.29,207.75 244.58,191.25 246.25,182.50C247.92,173.75 249.67,170.50 251.25,167.50C252.83,164.50 254.29,164.08 255.75,164.50C257.21,164.92 258.46,165.75 260.00,170.00C261.54,174.25 263.33,182.92 265.00,190.00C266.67,197.08 268.33,205.42 270.00,212.50C271.67,219.58 272.92,225.25 275.00,232.50C277.08,239.75 280.00,249.58 282.50,256.00C285.00,262.42 287.71,267.25 290.00,271.00C292.29,274.75 294.17,278.50 296.25,278.50C298.33,278.50 300.62,274.75 302.50,271.00C304.38,267.25 305.83,260.67 307.50,256.00C309.17,251.33 311.04,245.33 312.50,243.00C313.96,240.67 314.79,241.25 316.25,242.00C317.71,242.75 319.88,245.17 321.25,247.50C322.62,249.83 323.04,251.67 324.50,256.00C325.96,260.33 328.04,268.50 330.00,273.50C331.96,278.50 334.38,283.50 336.25,286.00C338.12,288.50 339.38,288.71 341.25,288.50C343.12,288.29 345.62,284.75 347.50,284.75C349.38,284.75 350.83,285.38 352.50,288.50C354.17,291.62 355.83,298.08 357.50,303.50C359.17,308.92 360.62,315.58 362.50,321.00C364.38,326.42 366.67,332.46 368.75,336.00C370.83,339.54 372.50,340.79 375.00,342.25C377.50,343.71 381.25,345.17 383.75,344.75C386.25,344.33 387.92,342.46 390.00,339.75C392.08,337.04 394.17,331.29 396.25,328.50C398.33,325.71 400.54,323.62 402.50,323.00C404.46,322.38 406.04,322.17 408.00,324.75C409.96,327.33 412.17,333.71 414.25,338.50C416.33,343.29 418.00,349.75 420.50,353.50C423.00,357.25 426.33,360.17 429.25,361.00C432.17,361.83 435.29,359.00 438.00,358.50C440.71,358.00 443.21,357.17 445.50,358.00C447.79,358.83 449.88,361.12 451.75,363.50C453.62,365.88 455.08,370.25 456.75,372.25C458.42,374.25 460.08,376.12 461.75,375.50C463.42,374.88 465.08,373.00 466.75,368.50C468.42,364.00 470.08,355.58 471.75,348.50C473.42,341.42 475.08,332.67 476.75,326.00C478.42,319.33 480.08,312.46 481.75,308.50C483.42,304.54 484.67,303.42 486.75,302.25C488.83,301.08 491.75,301.42 494.25,301.50C496.75,301.58 499.46,302.00 501.75,302.75C504.04,303.50 505.71,303.38 508.00,306.00C510.29,308.62 513.00,313.50 515.50,318.50C518.00,323.50 520.50,329.96 523.00,336.00C525.50,342.04 528.00,348.08 530.50,354.75C533.00,361.42 535.71,369.96 538.00,376.00C540.29,382.04 542.38,388.00 544.25,391.00C546.12,394.00 547.58,394.21 549.25,394.00C550.92,393.79 552.58,392.75 554.25,389.75C555.92,386.75 557.38,381.21 559.25,376.00C561.12,370.79 563.21,363.71 565.50,358.50C567.79,353.29 570.71,349.75 573.00,344.75C575.29,339.75 577.38,333.50 579.25,328.50C581.12,323.50 582.58,317.96 584.25,314.75C585.92,311.54 587.79,309.67 589.25,309.25C590.71,308.83 591.75,309.04 593.00,312.25C594.25,315.46 595.29,322.04 596.75,328.50C598.21,334.96 600.08,344.33 601.75,351.00C603.42,357.67 605.08,364.54 606.75,368.50C608.42,372.46 610.08,374.33 611.75,374.75C613.42,375.17 615.08,372.46 616.75,371.00C618.42,369.54 620.08,365.58 621.75,366.00C623.42,366.42 625.08,368.92 626.75,373.50C628.42,378.08 630.08,388.58 631.75,393.50C633.42,398.42 635.08,402.58 636.75,403.00C638.42,403.42 639.88,401.33 641.75,396.00C643.62,390.67 645.62,379.17 648.00,371.00C650.38,362.83 653.62,352.17 656.00,347.00C658.38,341.83 659.96,341.67 662.25,340.00C664.54,338.33 667.04,337.21 669.75,337.00C672.46,336.79 675.58,337.62 678.50,338.75C681.42,339.88 684.75,341.46 687.25,343.75C689.75,346.04 691.42,348.12 693.50,352.50C695.58,356.88 697.67,365.00 699.75,370.00C701.83,375.00 703.71,379.58 706.00,382.50C708.29,385.42 711.21,387.29 713.50,387.50C715.79,387.71 717.67,386.67 719.75,383.75C721.83,380.83 723.92,375.21 726.00,370.00C728.08,364.79 730.38,356.33 732.25,352.50C734.12,348.67 735.58,347.42 737.25,347.00C738.92,346.58 740.17,347.62 742.25,350.00C744.33,352.38 747.25,357.50 749.75,361.25C752.25,365.00 754.96,368.12 757.25,372.50C759.54,376.88 761.42,382.71 763.50,387.50C765.58,392.29 767.67,400.00 769.75,401.25C771.83,402.50 773.92,396.88 776.00,395.00C778.08,393.12 780.58,390.21 782.25,390.00C783.92,389.79 784.54,390.42 786.00,393.75C787.46,397.08 789.33,405.00 791.00,410.00C792.67,415.00 794.33,420.92 796.00,423.75C797.67,426.58 799.33,427.42 801.00,427.00C802.67,426.58 804.33,422.83 806.00,421.25C807.67,419.67 809.33,417.29 811.00,417.50C812.67,417.71 814.33,419.17 816.00,422.50C817.67,425.83 819.33,433.12 821.00,437.50C822.67,441.88 824.33,446.67 826.00,448.75C827.67,450.83 829.33,451.04 831.00,450.00C832.67,448.96 834.33,447.08 836.00,442.50C837.67,437.92 838.92,428.33 841.00,422.50C843.08,416.67 846.00,411.67 848.50,407.50C851.00,403.33 853.50,400.00 856.00,397.50C858.50,395.00 861.21,393.54 863.50,392.50C865.79,391.46 867.88,392.92 869.75,391.25C871.62,389.58 873.08,386.04 874.75,382.50C876.42,378.96 878.08,372.83 879.75,370.00C881.42,367.17 883.08,365.08 884.75,365.50C886.42,365.92 887.83,368.83 889.75,372.50C891.67,376.17 893.88,384.00 896.25,387.50C898.62,391.00 901.67,393.08 904.00,393.50C906.33,393.92 908.17,392.25 910.25,390.00C912.33,387.75 914.42,382.71 916.50,380.00C918.58,377.29 920.88,374.79 922.75,373.75C924.62,372.71 926.08,371.88 927.75,373.75C929.42,375.62 930.88,381.25 932.75,385.00C934.62,388.75 936.92,394.08 939.00,396.25C941.08,398.42 943.38,397.71 945.25,398.00C947.12,398.29 948.58,396.83 950.25,398.00C951.92,399.17 953.71,401.96 955.25,405.00C956.79,408.04 958.79,414.38 959.50,416.25" fill="none" stroke="#ff0000" stroke-width="4.4" stroke-linejoin="round" stroke-linecap="butt"/>
<path d="M169.50,1227.00C170.21,1231.67 172.21,1252.83 173.75,1255.00C175.29,1257.17 177.08,1244.33 178.75,1240.00C180.42,1235.67 181.88,1231.75 183.75,1229.00C185.62,1226.25 187.92,1225.33 190.00,1223.50C192.08,1221.67 194.58,1221.42 196.25,1218.00C197.92,1214.58 198.75,1209.83 200.00,1203.00C201.25,1196.17 202.50,1185.67 203.75,1177.00C205.00,1168.33 206.04,1158.92 207.50,1151.00C208.96,1143.08 210.83,1134.58 212.50,1129.50C214.17,1124.42 215.83,1123.00 217.50,1120.50C219.17,1118.00 220.83,1117.75 222.50,1114.50C224.17,1111.25 226.08,1107.83 227.50,1101.00C228.92,1094.17 230.00,1082.25 231.00,1073.50C232.00,1064.75 232.67,1058.08 233.50,1048.50C234.33,1038.92 235.33,1025.58 236.00,1016.00C236.67,1006.42 237.04,999.33 237.50,991.00C237.96,982.67 237.92,980.33 238.75,966.00C239.58,951.67 241.25,923.50 242.50,905.00C243.75,886.50 244.79,870.42 246.25,855.00C247.71,839.58 249.58,820.67 251.25,812.50C252.92,804.33 254.71,806.08 256.25,806.00C257.79,805.92 259.04,807.67 260.50,812.00C261.96,816.33 263.42,824.25 265.00,832.00C266.58,839.75 268.33,849.83 270.00,858.50C271.67,867.17 273.33,876.58 275.00,884.00C276.67,891.42 278.33,898.88 280.00,903.00C281.67,907.12 282.92,908.08 285.00,908.75C287.08,909.42 290.00,907.71 292.50,907.00C295.00,906.29 297.50,905.17 300.00,904.50C302.50,903.83 305.33,902.42 307.50,903.00C309.67,903.58 310.92,905.83 313.00,908.00C315.08,910.17 317.67,913.33 320.00,916.00C322.33,918.67 324.50,921.46 327.00,924.00C329.50,926.54 332.21,928.79 335.00,931.25C337.79,933.71 341.25,935.21 343.75,938.75C346.25,942.29 347.71,947.96 350.00,952.50C352.29,957.04 354.58,961.25 357.50,966.00C360.42,970.75 364.58,975.58 367.50,981.00C370.42,986.42 372.71,992.67 375.00,998.50C377.29,1004.33 378.75,1010.42 381.25,1016.00C383.75,1021.58 386.88,1028.08 390.00,1032.00C393.12,1035.92 397.00,1037.50 400.00,1039.50C403.00,1041.50 405.00,1041.21 408.00,1044.00C411.00,1046.79 414.67,1052.96 418.00,1056.25C421.33,1059.54 424.88,1062.08 428.00,1063.75C431.12,1065.42 433.83,1066.25 436.75,1066.25C439.67,1066.25 442.38,1064.67 445.50,1063.75C448.62,1062.83 452.38,1061.08 455.50,1060.75C458.62,1060.42 460.92,1060.62 464.25,1061.75C467.58,1062.88 471.54,1065.50 475.50,1067.50C479.46,1069.50 483.83,1072.08 488.00,1073.75C492.17,1075.42 495.92,1076.46 500.50,1077.50C505.08,1078.54 510.92,1078.54 515.50,1080.00C520.08,1081.46 524.25,1084.50 528.00,1086.25C531.75,1088.00 534.67,1089.54 538.00,1090.50C541.33,1091.46 544.67,1091.83 548.00,1092.00C551.33,1092.17 554.67,1091.42 558.00,1091.50C561.33,1091.58 564.67,1091.71 568.00,1092.50C571.33,1093.29 575.08,1095.62 578.00,1096.25C580.92,1096.88 582.79,1097.08 585.50,1096.25C588.21,1095.42 591.33,1092.50 594.25,1091.25C597.17,1090.00 599.88,1089.46 603.00,1088.75C606.12,1088.04 609.88,1087.62 613.00,1087.00C616.12,1086.38 619.04,1084.71 621.75,1085.00C624.46,1085.29 626.96,1088.00 629.25,1088.75C631.54,1089.50 633.21,1089.92 635.50,1089.50C637.79,1089.08 640.71,1087.08 643.00,1086.25C645.29,1085.42 647.08,1084.79 649.25,1084.50C651.42,1084.21 653.62,1083.58 656.00,1084.50C658.38,1085.42 660.58,1088.58 663.50,1090.00C666.42,1091.42 670.17,1092.58 673.50,1093.00C676.83,1093.42 680.17,1093.21 683.50,1092.50C686.83,1091.79 690.17,1088.54 693.50,1088.75C696.83,1088.96 700.17,1092.08 703.50,1093.75C706.83,1095.42 709.75,1098.04 713.50,1098.75C717.25,1099.46 722.25,1098.00 726.00,1098.00C729.75,1098.00 732.25,1098.00 736.00,1098.75C739.75,1099.50 744.33,1101.46 748.50,1102.50C752.67,1103.54 756.42,1104.17 761.00,1105.00C765.58,1105.83 771.00,1106.25 776.00,1107.50C781.00,1108.75 786.00,1110.83 791.00,1112.50C796.00,1114.17 801.42,1116.04 806.00,1117.50C810.58,1118.96 813.50,1120.62 818.50,1121.25C823.50,1121.88 831.00,1121.04 836.00,1121.25C841.00,1121.46 845.17,1122.92 848.50,1122.50C851.83,1122.08 853.50,1120.21 856.00,1118.75C858.50,1117.29 860.58,1114.79 863.50,1113.75C866.42,1112.71 870.17,1113.00 873.50,1112.50C876.83,1112.00 880.17,1110.75 883.50,1110.75C886.83,1110.75 890.92,1112.00 893.50,1112.50C896.08,1113.00 895.58,1113.54 899.00,1113.75C902.42,1113.96 909.42,1113.67 914.00,1113.75C918.58,1113.83 922.75,1114.67 926.50,1114.25C930.25,1113.83 933.58,1112.58 936.50,1111.25C939.42,1109.92 941.50,1107.71 944.00,1106.25C946.50,1104.79 948.92,1103.21 951.50,1102.50C954.08,1101.79 958.17,1102.08 959.50,1102.00" fill="none" stroke="#00ffff" stroke-opacity="0.3" stroke-width="6.0" stroke-linejoin="round" stroke-linecap="butt"/><path d="M169.50,1227.00C170.21,1231.67 172.21,1252.83 173.75,1255.00C175.29,1257.17 177.08,1244.33 178.75,1240.00C180.42,1235.67 181.88,1231.75 183.75,1229.00C185.62,1226.25 187.92,1225.33 190.00,1223.50C192.08,1221.67 194.58,1221.42 196.25,1218.00C197.92,1214.58 198.75,1209.83 200.00,1203.00C201.25,1196.17 202.50,1185.67 203.75,1177.00C205.00,1168.33 206.04,1158.92 207.50,1151.00C208.96,1143.08 210.83,1134.58 212.50,1129.50C214.17,1124.42 215.83,1123.00 217.50,1120.50C219.17,1118.00 220.83,1117.75 222.50,1114.50C224.17,1111.25 226.08,1107.83 227.50,1101.00C228.92,1094.17 230.00,1082.25 231.00,1073.50C232.00,1064.75 232.67,1058.08 233.50,1048.50C234.33,1038.92 235.33,1025.58 236.00,1016.00C236.67,1006.42 237.04,999.33 237.50,991.00C237.96,982.67 237.92,980.33 238.75,966.00C239.58,951.67 241.25,923.50 242.50,905.00C243.75,886.50 244.79,870.42 246.25,855.00C247.71,839.58 249.58,820.67 251.25,812.50C252.92,804.33 254.71,806.08 256.25,806.00C257.79,805.92 259.04,807.67 260.50,812.00C261.96,816.33 263.42,824.25 265.00,832.00C266.58,839.75 268.33,849.83 270.00,858.50C271.67,867.17 273.33,876.58 275.00,884.00C276.67,891.42 278.33,898.88 280.00,903.00C281.67,907.12 282.92,908.08 285.00,908.75C287.08,909.42 290.00,907.71 292.50,907.00C295.00,906.29 297.50,905.17 300.00,904.50C302.50,903.83 305.33,902.42 307.50,903.00C309.67,903.58 310.92,905.83 313.00,908.00C315.08,910.17 317.67,913.33 320.00,916.00C322.33,918.67 324.50,921.46 327.00,924.00C329.50,926.54 332.21,928.79 335.00,931.25C337.79,933.71 341.25,935.21 343.75,938.75C346.25,942.29 347.71,947.96 350.00,952.50C352.29,957.04 354.58,961.25 357.50,966.00C360.42,970.75 364.58,975.58 367.50,981.00C370.42,986.42 372.71,992.67 375.00,998.50C377.29,1004.33 378.75,1010.42 381.25,1016.00C383.75,1021.58 386.88,1028.08 390.00,1032.00C393.12,1035.92 397.00,1037.50 400.00,1039.50C403.00,1041.50 405.00,1041.21 408.00,1044.00C411.00,1046.79 414.67,1052.96 418.00,1056.25C421.33,1059.54 424.88,1062.08 428.00,1063.75C431.12,1065.42 433.83,1066.25 436.75,1066.25C439.67,1066.25 442.38,1064.67 445.50,1063.75C448.62,1062.83 452.38,1061.08 455.50,1060.75C458.62,1060.42 460.92,1060.62 464.25,1061.75C467.58,1062.88 471.54,1065.50 475.50,1067.50C479.46,1069.50 483.83,1072.08 488.00,1073.75C492.17,1075.42 495.92,1076.46 500.50,1077.50C505.08,1078.54 510.92,1078.54 515.50,1080.00C520.08,1081.46 524.25,1084.50 528.00,1086.25C531.75,1088.00 534.67,1089.54 538.00,1090.50C541.33,1091.46 544.67,1091.83 548.00,1092.00C551.33,1092.17 554.67,1091.42 558.00,1091.50C561.33,1091.58 564.67,1091.71 568.00,1092.50C571.33,1093.29 575.08,1095.62 578.00,1096.25C580.92,1096.88 582.79,1097.08 585.50,1096.25C588.21,1095.42 591.33,1092.50 594.25,1091.25C597.17,1090.00 599.88,1089.46 603.00,1088.75C606.12,1088.04 609.88,1087.62 613.00,1087.00C616.12,1086.38 619.04,1084.71 621.75,1085.00C624.46,1085.29 626.96,1088.00 629.25,1088.75C631.54,1089.50 633.21,1089.92 635.50,1089.50C637.79,1089.08 640.71,1087.08 643.00,1086.25C645.29,1085.42 647.08,1084.79 649.25,1084.50C651.42,1084.21 653.62,1083.58 656.00,1084.50C658.38,1085.42 660.58,1088.58 663.50,1090.00C666.42,1091.42 670.17,1092.58 673.50,1093.00C676.83,1093.42 680.17,1093.21 683.50,1092.50C686.83,1091.79 690.17,1088.54 693.50,1088.75C696.83,1088.96 700.17,1092.08 703.50,1093.75C706.83,1095.42 709.75,1098.04 713.50,1098.75C717.25,1099.46 722.25,1098.00 726.00,1098.00C729.75,1098.00 732.25,1098.00 736.00,1098.75C739.75,1099.50 744.33,1101.46 748.50,1102.50C752.67,1103.54 756.42,1104.17 761.00,1105.00C765.58,1105.83 771.00,1106.25 776.00,1107.50C781.00,1108.75 786.00,1110.83 791.00,1112.50C796.00,1114.17 801.42,1116.04 806.00,1117.50C810.58,1118.96 813.50,1120.62 818.50,1121.25C823.50,1121.88 831.00,1121.04 836.00,1121.25C841.00,1121.46 845.17,1122.92 848.50,1122.50C851.83,1122.08 853.50,1120.21 856.00,1118.75C858.50,1117.29 860.58,1114.79 863.50,1113.75C866.42,1112.71 870.17,1113.00 873.50,1112.50C876.83,1112.00 880.17,1110.75 883.50,1110.75C886.83,1110.75 890.92,1112.00 893.50,1112.50C896.08,1113.00 895.58,1113.54 899.00,1113.75C902.42,1113.96 909.42,1113.67 914.00,1113.75C918.58,1113.83 922.75,1114.67 926.50,1114.25C930.25,1113.83 933.58,1112.58 936.50,1111.25C939.42,1109.92 941.50,1107.71 944.00,1106.25C946.50,1104.79 948.92,1103.21 951.50,1102.50C954.08,1101.79 958.17,1102.08 959.50,1102.00" fill="none" stroke="#00ffff" stroke-width="4.4" stroke-linejoin="round" stroke-linecap="butt"/>
<path d="M169.50,1222.00C170.21,1226.25 172.21,1245.33 173.75,1247.50C175.29,1249.67 177.08,1238.75 178.75,1235.00C180.42,1231.25 181.88,1227.50 183.75,1225.00C185.62,1222.50 187.92,1221.67 190.00,1220.00C192.08,1218.33 194.58,1218.33 196.25,1215.00C197.92,1211.67 198.75,1206.67 200.00,1200.00C201.25,1193.33 202.50,1183.33 203.75,1175.00C205.00,1166.67 206.04,1157.67 207.50,1150.00C208.96,1142.33 210.83,1134.00 212.50,1129.00C214.17,1124.00 215.83,1122.50 217.50,1120.00C219.17,1117.50 220.83,1117.17 222.50,1114.00C224.17,1110.83 226.04,1107.75 227.50,1101.00C228.96,1094.25 230.21,1082.25 231.25,1073.50C232.29,1064.75 232.92,1058.08 233.75,1048.50C234.58,1038.92 235.54,1025.58 236.25,1016.00C236.96,1006.42 237.46,999.33 238.00,991.00C238.54,982.67 238.96,978.25 239.50,966.00C240.04,953.75 240.12,934.75 241.25,917.50C242.38,900.25 244.58,876.75 246.25,862.50C247.92,848.25 249.62,838.25 251.25,832.00C252.88,825.75 254.54,825.00 256.00,825.00C257.46,825.00 258.58,827.67 260.00,832.00C261.42,836.33 262.92,843.67 264.50,851.00C266.08,858.33 267.83,868.00 269.50,876.00C271.17,884.00 273.00,893.00 274.50,899.00C276.00,905.00 276.75,908.29 278.50,912.00C280.25,915.71 282.25,919.42 285.00,921.25C287.75,923.08 291.25,923.00 295.00,923.00C298.75,923.00 304.17,920.71 307.50,921.25C310.83,921.79 312.08,923.12 315.00,926.25C317.92,929.38 321.67,936.04 325.00,940.00C328.33,943.96 331.25,947.50 335.00,950.00C338.75,952.50 343.75,952.92 347.50,955.00C351.25,957.08 354.00,958.17 357.50,962.50C361.00,966.83 365.42,975.00 368.50,981.00C371.58,987.00 373.71,992.67 376.00,998.50C378.29,1004.33 379.75,1010.08 382.25,1016.00C384.75,1021.92 388.04,1029.00 391.00,1034.00C393.96,1039.00 397.17,1042.67 400.00,1046.00C402.83,1049.33 405.62,1050.42 408.00,1054.00C410.38,1057.58 411.75,1062.33 414.25,1067.50C416.75,1072.67 419.88,1080.00 423.00,1085.00C426.12,1090.00 429.67,1093.96 433.00,1097.50C436.33,1101.04 439.67,1103.88 443.00,1106.25C446.33,1108.62 449.25,1110.71 453.00,1111.75C456.75,1112.79 461.33,1111.54 465.50,1112.50C469.67,1113.46 473.83,1115.21 478.00,1117.50C482.17,1119.79 486.75,1123.54 490.50,1126.25C494.25,1128.96 496.96,1132.17 500.50,1133.75C504.04,1135.33 508.42,1135.75 511.75,1135.75C515.08,1135.75 515.71,1134.08 520.50,1133.75C525.29,1133.42 535.50,1133.12 540.50,1133.75C545.50,1134.38 547.17,1136.25 550.50,1137.50C553.83,1138.75 557.58,1140.00 560.50,1141.25C563.42,1142.50 565.08,1144.38 568.00,1145.00C570.92,1145.62 574.67,1145.83 578.00,1145.00C581.33,1144.17 584.25,1142.08 588.00,1140.00C591.75,1137.92 596.33,1134.79 600.50,1132.50C604.67,1130.21 608.42,1127.29 613.00,1126.25C617.58,1125.21 621.75,1126.25 628.00,1126.25C634.25,1126.25 645.83,1126.54 650.50,1126.25C655.17,1125.96 653.42,1125.96 656.00,1124.50C658.58,1123.04 662.25,1119.71 666.00,1117.50C669.75,1115.29 673.92,1113.54 678.50,1111.25C683.08,1108.96 689.33,1105.00 693.50,1103.75C697.67,1102.50 699.75,1103.75 703.50,1103.75C707.25,1103.75 711.83,1104.17 716.00,1103.75C720.17,1103.33 724.33,1101.25 728.50,1101.25C732.67,1101.25 736.83,1103.96 741.00,1103.75C745.17,1103.54 748.92,1100.62 753.50,1100.00C758.08,1099.38 763.92,1099.79 768.50,1100.00C773.08,1100.21 776.42,1100.96 781.00,1101.25C785.58,1101.54 791.00,1101.33 796.00,1101.75C801.00,1102.17 806.42,1102.88 811.00,1103.75C815.58,1104.62 818.92,1106.38 823.50,1107.00C828.08,1107.62 833.92,1107.00 838.50,1107.50C843.08,1108.00 846.00,1109.58 851.00,1110.00C856.00,1110.42 863.92,1110.54 868.50,1110.00C873.08,1109.46 874.75,1107.38 878.50,1106.75C882.25,1106.12 887.58,1106.25 891.00,1106.25C894.42,1106.25 895.17,1106.54 899.00,1106.75C902.83,1106.96 909.42,1106.67 914.00,1107.50C918.58,1108.33 923.17,1111.54 926.50,1111.75C929.83,1111.96 928.50,1109.17 934.00,1108.75C939.50,1108.33 955.25,1109.17 959.50,1109.25" fill="none" stroke="#ff00ff" stroke-opacity="0.3" stroke-width="6.0" stroke-linejoin="round" stroke-linecap="butt"/><path d="M169.50,1222.00C170.21,1226.25 172.21,1245.33 173.75,1247.50C175.29,1249.67 177.08,1238.75 178.75,1235.00C180.42,1231.25 181.88,1227.50 183.75,1225.00C185.62,1222.50 187.92,1221.67 190.00,1220.00C192.08,1218.33 194.58,1218.33 196.25,1215.00C197.92,1211.67 198.75,1206.67 200.00,1200.00C201.25,1193.33 202.50,1183.33 203.75,1175.00C205.00,1166.67 206.04,1157.67 207.50,1150.00C208.96,1142.33 210.83,1134.00 212.50,1129.00C214.17,1124.00 215.83,1122.50 217.50,1120.00C219.17,1117.50 220.83,1117.17 222.50,1114.00C224.17,1110.83 226.04,1107.75 227.50,1101.00C228.96,1094.25 230.21,1082.25 231.25,1073.50C232.29,1064.75 232.92,1058.08 233.75,1048.50C234.58,1038.92 235.54,1025.58 236.25,1016.00C236.96,1006.42 237.46,999.33 238.00,991.00C238.54,982.67 238.96,978.25 239.50,966.00C240.04,953.75 240.12,934.75 241.25,917.50C242.38,900.25 244.58,876.75 246.25,862.50C247.92,848.25 249.62,838.25 251.25,832.00C252.88,825.75 254.54,825.00 256.00,825.00C257.46,825.00 258.58,827.67 260.00,832.00C261.42,836.33 262.92,843.67 264.50,851.00C266.08,858.33 267.83,868.00 269.50,876.00C271.17,884.00 273.00,893.00 274.50,899.00C276.00,905.00 276.75,908.29 278.50,912.00C280.25,915.71 282.25,919.42 285.00,921.25C287.75,923.08 291.25,923.00 295.00,923.00C298.75,923.00 304.17,920.71 307.50,921.25C310.83,921.79 312.08,923.12 315.00,926.25C317.92,929.38 321.67,936.04 325.00,940.00C328.33,943.96 331.25,947.50 335.00,950.00C338.75,952.50 343.75,952.92 347.50,955.00C351.25,957.08 354.00,958.17 357.50,962.50C361.00,966.83 365.42,975.00 368.50,981.00C371.58,987.00 373.71,992.67 376.00,998.50C378.29,1004.33 379.75,1010.08 382.25,1016.00C384.75,1021.92 388.04,1029.00 391.00,1034.00C393.96,1039.00 397.17,1042.67 400.00,1046.00C402.83,1049.33 405.62,1050.42 408.00,1054.00C410.38,1057.58 411.75,1062.33 414.25,1067.50C416.75,1072.67 419.88,1080.00 423.00,1085.00C426.12,1090.00 429.67,1093.96 433.00,1097.50C436.33,1101.04 439.67,1103.88 443.00,1106.25C446.33,1108.62 449.25,1110.71 453.00,1111.75C456.75,1112.79 461.33,1111.54 465.50,1112.50C469.67,1113.46 473.83,1115.21 478.00,1117.50C482.17,1119.79 486.75,1123.54 490.50,1126.25C494.25,1128.96 496.96,1132.17 500.50,1133.75C504.04,1135.33 508.42,1135.75 511.75,1135.75C515.08,1135.75 515.71,1134.08 520.50,1133.75C525.29,1133.42 535.50,1133.12 540.50,1133.75C545.50,1134.38 547.17,1136.25 550.50,1137.50C553.83,1138.75 557.58,1140.00 560.50,1141.25C563.42,1142.50 565.08,1144.38 568.00,1145.00C570.92,1145.62 574.67,1145.83 578.00,1145.00C581.33,1144.17 584.25,1142.08 588.00,1140.00C591.75,1137.92 596.33,1134.79 600.50,1132.50C604.67,1130.21 608.42,1127.29 613.00,1126.25C617.58,1125.21 621.75,1126.25 628.00,1126.25C634.25,1126.25 645.83,1126.54 650.50,1126.25C655.17,1125.96 653.42,1125.96 656.00,1124.50C658.58,1123.04 662.25,1119.71 666.00,1117.50C669.75,1115.29 673.92,1113.54 678.50,1111.25C683.08,1108.96 689.33,1105.00 693.50,1103.75C697.67,1102.50 699.75,1103.75 703.50,1103.75C707.25,1103.75 711.83,1104.17 716.00,1103.75C720.17,1103.33 724.33,1101.25 728.50,1101.25C732.67,1101.25 736.83,1103.96 741.00,1103.75C745.17,1103.54 748.92,1100.62 753.50,1100.00C758.08,1099.38 763.92,1099.79 768.50,1100.00C773.08,1100.21 776.42,1100.96 781.00,1101.25C785.58,1101.54 791.00,1101.33 796.00,1101.75C801.00,1102.17 806.42,1102.88 811.00,1103.75C815.58,1104.62 818.92,1106.38 823.50,1107.00C828.08,1107.62 833.92,1107.00 838.50,1107.50C843.08,1108.00 846.00,1109.58 851.00,1110.00C856.00,1110.42 863.92,1110.54 868.50,1110.00C873.08,1109.46 874.75,1107.38 878.50,1106.75C882.25,1106.12 887.58,1106.25 891.00,1106.25C894.42,1106.25 895.17,1106.54 899.00,1106.75C902.83,1106.96 909.42,1106.67 914.00,1107.50C918.58,1108.33 923.17,1111.54 926.50,1111.75C929.83,1111.96 928.50,1109.17 934.00,1108.75C939.50,1108.33 955.25,1109.17 959.50,1109.25" fill="none" stroke="#ff00ff" stroke-width="4.4" stroke-linejoin="round" stroke-linecap="butt"/>
<path d="M169.50,1227.00C170.21,1231.67 172.21,1252.83 173.75,1255.00C175.29,1257.17 177.08,1244.33 178.75,1240.00C180.42,1235.67 181.88,1231.75 183.75,1229.00C185.62,1226.25 187.92,1225.33 190.00,1223.50C192.08,1221.67 194.58,1221.42 196.25,1218.00C197.92,1214.58 198.75,1209.83 200.00,1203.00C201.25,1196.17 202.50,1185.67 203.75,1177.00C205.00,1168.33 206.04,1158.92 207.50,1151.00C208.96,1143.08 210.83,1134.58 212.50,1129.50C214.17,1124.42 215.83,1123.00 217.50,1120.50C219.17,1118.00 220.83,1117.75 222.50,1114.50C224.17,1111.25 226.08,1107.83 227.50,1101.00C228.92,1094.17 230.00,1082.25 231.00,1073.50C232.00,1064.75 232.67,1058.08 233.50,1048.50C234.33,1038.92 235.33,1025.58 236.00,1016.00C236.67,1006.42 237.04,999.33 237.50,991.00C237.96,982.67 237.92,980.33 238.75,966.00C239.58,951.67 241.25,923.50 242.50,905.00C243.75,886.50 244.79,870.42 246.25,855.00C247.71,839.58 249.58,821.88 251.25,812.50C252.92,803.12 254.79,800.00 256.25,798.75C257.71,797.50 258.54,799.79 260.00,805.00C261.46,810.21 263.33,821.25 265.00,830.00C266.67,838.75 268.33,848.75 270.00,857.50C271.67,866.25 273.33,875.62 275.00,882.50C276.67,889.38 278.12,895.42 280.00,898.75C281.88,902.08 284.17,902.08 286.25,902.50C288.33,902.92 290.42,902.08 292.50,901.25C294.58,900.42 296.67,898.46 298.75,897.50C300.83,896.54 303.12,895.42 305.00,895.50C306.88,895.58 308.12,896.00 310.00,898.00C311.88,900.00 313.75,903.83 316.25,907.50C318.75,911.17 321.88,916.04 325.00,920.00C328.12,923.96 331.88,928.12 335.00,931.25C338.12,934.38 341.25,935.21 343.75,938.75C346.25,942.29 347.71,947.96 350.00,952.50C352.29,957.04 354.58,961.25 357.50,966.00C360.42,970.75 364.58,975.58 367.50,981.00C370.42,986.42 372.71,992.67 375.00,998.50C377.29,1004.33 378.75,1010.17 381.25,1016.00C383.75,1021.83 386.88,1028.71 390.00,1033.50C393.12,1038.29 397.00,1041.75 400.00,1044.75C403.00,1047.75 405.00,1048.12 408.00,1051.50C411.00,1054.88 414.46,1061.08 418.00,1065.00C421.54,1068.92 425.92,1072.92 429.25,1075.00C432.58,1077.08 435.29,1077.92 438.00,1077.50C440.71,1077.08 443.00,1073.96 445.50,1072.50C448.00,1071.04 449.25,1069.25 453.00,1068.75C456.75,1068.25 463.83,1068.46 468.00,1069.50C472.17,1070.54 474.67,1073.17 478.00,1075.00C481.33,1076.83 483.83,1079.46 488.00,1080.50C492.17,1081.54 498.00,1081.12 503.00,1081.25C508.00,1081.38 513.83,1080.42 518.00,1081.25C522.17,1082.08 524.67,1084.58 528.00,1086.25C531.33,1087.92 534.67,1090.12 538.00,1091.25C541.33,1092.38 544.67,1092.79 548.00,1093.00C551.33,1093.21 554.67,1091.96 558.00,1092.50C561.33,1093.04 564.67,1094.79 568.00,1096.25C571.33,1097.71 574.88,1100.21 578.00,1101.25C581.12,1102.29 584.25,1102.92 586.75,1102.50C589.25,1102.08 590.71,1100.00 593.00,1098.75C595.29,1097.50 597.58,1095.71 600.50,1095.00C603.42,1094.29 607.17,1094.50 610.50,1094.50C613.83,1094.50 617.58,1094.71 620.50,1095.00C623.42,1095.29 625.50,1096.04 628.00,1096.25C630.50,1096.46 633.00,1096.75 635.50,1096.25C638.00,1095.75 640.50,1093.79 643.00,1093.25C645.50,1092.71 648.33,1092.67 650.50,1093.00C652.67,1093.33 653.42,1093.67 656.00,1095.25C658.58,1096.83 662.67,1100.96 666.00,1102.50C669.33,1104.04 672.67,1104.50 676.00,1104.50C679.33,1104.50 682.67,1103.04 686.00,1102.50C689.33,1101.96 693.08,1100.62 696.00,1101.25C698.92,1101.88 701.00,1104.38 703.50,1106.25C706.00,1108.12 708.50,1111.38 711.00,1112.50C713.50,1113.62 716.00,1113.42 718.50,1113.00C721.00,1112.58 723.92,1110.58 726.00,1110.00C728.08,1109.42 728.92,1108.67 731.00,1109.50C733.08,1110.33 735.79,1113.25 738.50,1115.00C741.21,1116.75 744.75,1119.17 747.25,1120.00C749.75,1120.83 751.21,1120.29 753.50,1120.00C755.79,1119.71 758.50,1118.46 761.00,1118.25C763.50,1118.04 765.58,1117.62 768.50,1118.75C771.42,1119.88 774.75,1123.12 778.50,1125.00C782.25,1126.88 786.83,1128.75 791.00,1130.00C795.17,1131.25 800.17,1131.46 803.50,1132.50C806.83,1133.54 808.50,1135.29 811.00,1136.25C813.50,1137.21 815.17,1138.33 818.50,1138.25C821.83,1138.17 826.83,1136.17 831.00,1135.75C835.17,1135.33 839.75,1135.88 843.50,1135.75C847.25,1135.62 850.58,1136.17 853.50,1135.00C856.42,1133.83 858.50,1130.42 861.00,1128.75C863.50,1127.08 865.17,1125.62 868.50,1125.00C871.83,1124.38 877.25,1125.08 881.00,1125.00C884.75,1124.92 888.71,1124.92 891.00,1124.50C893.29,1124.08 893.29,1122.29 894.75,1122.50C896.21,1122.71 898.21,1125.08 899.75,1125.75C901.29,1126.42 901.62,1125.79 904.00,1126.50C906.38,1127.21 910.67,1129.83 914.00,1130.00C917.33,1130.17 920.67,1128.33 924.00,1127.50C927.33,1126.67 930.88,1125.62 934.00,1125.00C937.12,1124.38 940.25,1124.79 942.75,1123.75C945.25,1122.71 946.92,1119.67 949.00,1118.75C951.08,1117.83 953.38,1118.04 955.25,1118.25C957.12,1118.46 959.42,1119.71 960.25,1120.00" fill="none" stroke="#0000ff" stroke-opacity="0.3" stroke-width="6.0" stroke-linejoin="round" stroke-linecap="butt"/><path d="M169.50,1227.00C170.21,1231.67 172.21,1252.83 173.75,1255.00C175.29,1257.17 177.08,1244.33 178.75,1240.00C180.42,1235.67 181.88,1231.75 183.75,1229.00C185.62,1226.25 187.92,1225.33 190.00,1223.50C192.08,1221.67 194.58,1221.42 196.25,1218.00C197.92,1214.58 198.75,1209.83 200.00,1203.00C201.25,1196.17 202.50,1185.67 203.75,1177.00C205.00,1168.33 206.04,1158.92 207.50,1151.00C208.96,1143.08 210.83,1134.58 212.50,1129.50C214.17,1124.42 215.83,1123.00 217.50,1120.50C219.17,1118.00 220.83,1117.75 222.50,1114.50C224.17,1111.25 226.08,1107.83 227.50,1101.00C228.92,1094.17 230.00,1082.25 231.00,1073.50C232.00,1064.75 232.67,1058.08 233.50,1048.50C234.33,1038.92 235.33,1025.58 236.00,1016.00C236.67,1006.42 237.04,999.33 237.50,991.00C237.96,982.67 237.92,980.33 238.75,966.00C239.58,951.67 241.25,923.50 242.50,905.00C243.75,886.50 244.79,870.42 246.25,855.00C247.71,839.58 249.58,821.88 251.25,812.50C252.92,803.12 254.79,800.00 256.25,798.75C257.71,797.50 258.54,799.79 260.00,805.00C261.46,810.21 263.33,821.25 265.00,830.00C266.67,838.75 268.33,848.75 270.00,857.50C271.67,866.25 273.33,875.62 275.00,882.50C276.67,889.38 278.12,895.42 280.00,898.75C281.88,902.08 284.17,902.08 286.25,902.50C288.33,902.92 290.42,902.08 292.50,901.25C294.58,900.42 296.67,898.46 298.75,897.50C300.83,896.54 303.12,895.42 305.00,895.50C306.88,895.58 308.12,896.00 310.00,898.00C311.88,900.00 313.75,903.83 316.25,907.50C318.75,911.17 321.88,916.04 325.00,920.00C328.12,923.96 331.88,928.12 335.00,931.25C338.12,934.38 341.25,935.21 343.75,938.75C346.25,942.29 347.71,947.96 350.00,952.50C352.29,957.04 354.58,961.25 357.50,966.00C360.42,970.75 364.58,975.58 367.50,981.00C370.42,986.42 372.71,992.67 375.00,998.50C377.29,1004.33 378.75,1010.17 381.25,1016.00C383.75,1021.83 386.88,1028.71 390.00,1033.50C393.12,1038.29 397.00,1041.75 400.00,1044.75C403.00,1047.75 405.00,1048.12 408.00,1051.50C411.00,1054.88 414.46,1061.08 418.00,1065.00C421.54,1068.92 425.92,1072.92 429.25,1075.00C432.58,1077.08 435.29,1077.92 438.00,1077.50C440.71,1077.08 443.00,1073.96 445.50,1072.50C448.00,1071.04 449.25,1069.25 453.00,1068.75C456.75,1068.25 463.83,1068.46 468.00,1069.50C472.17,1070.54 474.67,1073.17 478.00,1075.00C481.33,1076.83 483.83,1079.46 488.00,1080.50C492.17,1081.54 498.00,1081.12 503.00,1081.25C508.00,1081.38 513.83,1080.42 518.00,1081.25C522.17,1082.08 524.67,1084.58 528.00,1086.25C531.33,1087.92 534.67,1090.12 538.00,1091.25C541.33,1092.38 544.67,1092.79 548.00,1093.00C551.33,1093.21 554.67,1091.96 558.00,1092.50C561.33,1093.04 564.67,1094.79 568.00,1096.25C571.33,1097.71 574.88,1100.21 578.00,1101.25C581.12,1102.29 584.25,1102.92 586.75,1102.50C589.25,1102.08 590.71,1100.00 593.00,1098.75C595.29,1097.50 597.58,1095.71 600.50,1095.00C603.42,1094.29 607.17,1094.50 610.50,1094.50C613.83,1094.50 617.58,1094.71 620.50,1095.00C623.42,1095.29 625.50,1096.04 628.00,1096.25C630.50,1096.46 633.00,1096.75 635.50,1096.25C638.00,1095.75 640.50,1093.79 643.00,1093.25C645.50,1092.71 648.33,1092.67 650.50,1093.00C652.67,1093.33 653.42,1093.67 656.00,1095.25C658.58,1096.83 662.67,1100.96 666.00,1102.50C669.33,1104.04 672.67,1104.50 676.00,1104.50C679.33,1104.50 682.67,1103.04 686.00,1102.50C689.33,1101.96 693.08,1100.62 696.00,1101.25C698.92,1101.88 701.00,1104.38 703.50,1106.25C706.00,1108.12 708.50,1111.38 711.00,1112.50C713.50,1113.62 716.00,1113.42 718.50,1113.00C721.00,1112.58 723.92,1110.58 726.00,1110.00C728.08,1109.42 728.92,1108.67 731.00,1109.50C733.08,1110.33 735.79,1113.25 738.50,1115.00C741.21,1116.75 744.75,1119.17 747.25,1120.00C749.75,1120.83 751.21,1120.29 753.50,1120.00C755.79,1119.71 758.50,1118.46 761.00,1118.25C763.50,1118.04 765.58,1117.62 768.50,1118.75C771.42,1119.88 774.75,1123.12 778.50,1125.00C782.25,1126.88 786.83,1128.75 791.00,1130.00C795.17,1131.25 800.17,1131.46 803.50,1132.50C806.83,1133.54 808.50,1135.29 811.00,1136.25C813.50,1137.21 815.17,1138.33 818.50,1138.25C821.83,1138.17 826.83,1136.17 831.00,1135.75C835.17,1135.33 839.75,1135.88 843.50,1135.75C847.25,1135.62 850.58,1136.17 853.50,1135.00C856.42,1133.83 858.50,1130.42 861.00,1128.75C863.50,1127.08 865.17,1125.62 868.50,1125.00C871.83,1124.38 877.25,1125.08 881.00,1125.00C884.75,1124.92 888.71,1124.92 891.00,1124.50C893.29,1124.08 893.29,1122.29 894.75,1122.50C896.21,1122.71 898.21,1125.08 899.75,1125.75C901.29,1126.42 901.62,1125.79 904.00,1126.50C906.38,1127.21 910.67,1129.83 914.00,1130.00C917.33,1130.17 920.67,1128.33 924.00,1127.50C927.33,1126.67 930.88,1125.62 934.00,1125.00C937.12,1124.38 940.25,1124.79 942.75,1123.75C945.25,1122.71 946.92,1119.67 949.00,1118.75C951.08,1117.83 953.38,1118.04 955.25,1118.25C957.12,1118.46 959.42,1119.71 960.25,1120.00" fill="none" stroke="#0000ff" stroke-width="4.4" stroke-linejoin="round" stroke-linecap="butt"/>
<path d="M169.50,1225.00C170.21,1228.75 172.21,1245.83 173.75,1247.50C175.29,1249.17 177.08,1238.75 178.75,1235.00C180.42,1231.25 181.88,1227.50 183.75,1225.00C185.62,1222.50 187.92,1221.67 190.00,1220.00C192.08,1218.33 194.58,1218.33 196.25,1215.00C197.92,1211.67 198.75,1206.67 200.00,1200.00C201.25,1193.33 202.50,1183.33 203.75,1175.00C205.00,1166.67 206.04,1157.67 207.50,1150.00C208.96,1142.33 210.83,1134.00 212.50,1129.00C214.17,1124.00 215.83,1122.50 217.50,1120.00C219.17,1117.50 220.83,1117.17 222.50,1114.00C224.17,1110.83 226.04,1107.75 227.50,1101.00C228.96,1094.25 230.21,1082.25 231.25,1073.50C232.29,1064.75 232.92,1058.08 233.75,1048.50C234.58,1038.92 235.54,1025.58 236.25,1016.00C236.96,1006.42 237.46,999.33 238.00,991.00C238.54,982.67 238.96,978.25 239.50,966.00C240.04,953.75 240.12,934.75 241.25,917.50C242.38,900.25 244.58,876.04 246.25,862.50C247.92,848.96 249.79,841.46 251.25,836.25C252.71,831.04 253.75,831.25 255.00,831.25C256.25,831.25 257.29,831.88 258.75,836.25C260.21,840.62 262.08,849.79 263.75,857.50C265.42,865.21 267.08,874.58 268.75,882.50C270.42,890.42 272.29,898.75 273.75,905.00C275.21,911.25 276.04,916.25 277.50,920.00C278.96,923.75 280.42,925.71 282.50,927.50C284.58,929.29 287.08,930.33 290.00,930.75C292.92,931.17 296.88,930.75 300.00,930.00C303.12,929.25 306.25,926.46 308.75,926.25C311.25,926.04 312.92,926.46 315.00,928.75C317.08,931.04 318.75,936.04 321.25,940.00C323.75,943.96 326.88,948.75 330.00,952.50C333.12,956.25 337.71,960.08 340.00,962.50C342.29,964.92 342.71,964.75 343.75,967.00C344.79,969.25 344.79,973.04 346.25,976.00C347.71,978.96 350.21,983.08 352.50,984.75C354.79,986.42 357.50,984.75 360.00,986.00C362.50,987.25 365.00,989.96 367.50,992.25C370.00,994.54 372.08,997.88 375.00,999.75C377.92,1001.62 382.08,1001.83 385.00,1003.50C387.92,1005.17 390.00,1006.83 392.50,1009.75C395.00,1012.67 397.42,1017.54 400.00,1021.00C402.58,1024.46 405.00,1026.50 408.00,1030.50C411.00,1034.50 414.25,1041.33 418.00,1045.00C421.75,1048.67 426.33,1050.00 430.50,1052.50C434.67,1055.00 438.83,1057.92 443.00,1060.00C447.17,1062.08 451.33,1064.17 455.50,1065.00C459.67,1065.83 464.67,1066.25 468.00,1065.00C471.33,1063.75 473.21,1060.21 475.50,1057.50C477.79,1054.79 479.88,1050.42 481.75,1048.75C483.62,1047.08 485.08,1046.88 486.75,1047.50C488.42,1048.12 489.67,1049.17 491.75,1052.50C493.83,1055.83 496.75,1063.33 499.25,1067.50C501.75,1071.67 504.04,1075.71 506.75,1077.50C509.46,1079.29 513.00,1077.83 515.50,1078.25C518.00,1078.67 519.67,1077.83 521.75,1080.00C523.83,1082.17 525.92,1088.12 528.00,1091.25C530.08,1094.38 532.38,1097.50 534.25,1098.75C536.12,1100.00 537.58,1099.79 539.25,1098.75C540.92,1097.71 542.38,1095.21 544.25,1092.50C546.12,1089.79 548.62,1084.38 550.50,1082.50C552.38,1080.62 553.62,1080.21 555.50,1081.25C557.38,1082.29 559.67,1086.96 561.75,1088.75C563.83,1090.54 565.71,1091.58 568.00,1092.00C570.29,1092.42 573.00,1092.21 575.50,1091.25C578.00,1090.29 580.50,1088.12 583.00,1086.25C585.50,1084.38 588.21,1081.46 590.50,1080.00C592.79,1078.54 594.67,1077.50 596.75,1077.50C598.83,1077.50 600.92,1079.79 603.00,1080.00C605.08,1080.21 607.17,1080.42 609.25,1078.75C611.33,1077.08 613.42,1072.38 615.50,1070.00C617.58,1067.62 619.67,1064.92 621.75,1064.50C623.83,1064.08 626.12,1065.54 628.00,1067.50C629.88,1069.46 631.33,1074.38 633.00,1076.25C634.67,1078.12 636.12,1079.17 638.00,1078.75C639.88,1078.33 642.17,1075.83 644.25,1073.75C646.33,1071.67 648.54,1068.29 650.50,1066.25C652.46,1064.21 654.25,1062.12 656.00,1061.50C657.75,1060.88 658.92,1060.88 661.00,1062.50C663.08,1064.12 665.58,1069.58 668.50,1071.25C671.42,1072.92 675.58,1072.79 678.50,1072.50C681.42,1072.21 683.08,1069.92 686.00,1069.50C688.92,1069.08 692.67,1069.08 696.00,1070.00C699.33,1070.92 703.08,1074.38 706.00,1075.00C708.92,1075.62 711.00,1074.50 713.50,1073.75C716.00,1073.00 718.50,1070.08 721.00,1070.50C723.50,1070.92 726.00,1073.83 728.50,1076.25C731.00,1078.67 733.71,1083.96 736.00,1085.00C738.29,1086.04 739.96,1083.75 742.25,1082.50C744.54,1081.25 747.46,1078.12 749.75,1077.50C752.04,1076.88 753.71,1077.08 756.00,1078.75C758.29,1080.42 761.21,1085.00 763.50,1087.50C765.79,1090.00 767.67,1093.75 769.75,1093.75C771.83,1093.75 773.92,1089.58 776.00,1087.50C778.08,1085.42 780.38,1082.58 782.25,1081.25C784.12,1079.92 785.38,1079.08 787.25,1079.50C789.12,1079.92 790.79,1082.00 793.50,1083.75C796.21,1085.50 800.17,1088.46 803.50,1090.00C806.83,1091.54 810.17,1092.58 813.50,1093.00C816.83,1093.42 820.58,1093.42 823.50,1092.50C826.42,1091.58 828.71,1088.83 831.00,1087.50C833.29,1086.17 835.17,1084.71 837.25,1084.50C839.33,1084.29 840.79,1084.71 843.50,1086.25C846.21,1087.79 850.58,1091.88 853.50,1093.75C856.42,1095.62 858.50,1097.50 861.00,1097.50C863.50,1097.50 866.00,1095.21 868.50,1093.75C871.00,1092.29 873.50,1089.58 876.00,1088.75C878.50,1087.92 881.00,1088.12 883.50,1088.75C886.00,1089.38 888.21,1091.25 891.00,1092.50C893.79,1093.75 897.67,1096.25 900.25,1096.25C902.83,1096.25 904.21,1094.17 906.50,1092.50C908.79,1090.83 911.08,1087.58 914.00,1086.25C916.92,1084.92 920.67,1085.04 924.00,1084.50C927.33,1083.96 930.67,1083.67 934.00,1083.00C937.33,1082.33 941.08,1081.21 944.00,1080.50C946.92,1079.79 949.42,1079.67 951.50,1078.75C953.58,1077.83 955.17,1076.12 956.50,1075.00C957.83,1073.88 959.00,1072.50 959.50,1072.00" fill="none" stroke="#ff0000" stroke-opacity="0.3" stroke-width="6.0" stroke-linejoin="round" stroke-linecap="butt"/><path d="M169.50,1225.00C170.21,1228.75 172.21,1245.83 173.75,1247.50C175.29,1249.17 177.08,1238.75 178.75,1235.00C180.42,1231.25 181.88,1227.50 183.75,1225.00C185.62,1222.50 187.92,1221.67 190.00,1220.00C192.08,1218.33 194.58,1218.33 196.25,1215.00C197.92,1211.67 198.75,1206.67 200.00,1200.00C201.25,1193.33 202.50,1183.33 203.75,1175.00C205.00,1166.67 206.04,1157.67 207.50,1150.00C208.96,1142.33 210.83,1134.00 212.50,1129.00C214.17,1124.00 215.83,1122.50 217.50,1120.00C219.17,1117.50 220.83,1117.17 222.50,1114.00C224.17,1110.83 226.04,1107.75 227.50,1101.00C228.96,1094.25 230.21,1082.25 231.25,1073.50C232.29,1064.75 232.92,1058.08 233.75,1048.50C234.58,1038.92 235.54,1025.58 236.25,1016.00C236.96,1006.42 237.46,999.33 238.00,991.00C238.54,982.67 238.96,978.25 239.50,966.00C240.04,953.75 240.12,934.75 241.25,917.50C242.38,900.25 244.58,876.04 246.25,862.50C247.92,848.96 249.79,841.46 251.25,836.25C252.71,831.04 253.75,831.25 255.00,831.25C256.25,831.25 257.29,831.88 258.75,836.25C260.21,840.62 262.08,849.79 263.75,857.50C265.42,865.21 267.08,874.58 268.75,882.50C270.42,890.42 272.29,898.75 273.75,905.00C275.21,911.25 276.04,916.25 277.50,920.00C278.96,923.75 280.42,925.71 282.50,927.50C284.58,929.29 287.08,930.33 290.00,930.75C292.92,931.17 296.88,930.75 300.00,930.00C303.12,929.25 306.25,926.46 308.75,926.25C311.25,926.04 312.92,926.46 315.00,928.75C317.08,931.04 318.75,936.04 321.25,940.00C323.75,943.96 326.88,948.75 330.00,952.50C333.12,956.25 337.71,960.08 340.00,962.50C342.29,964.92 342.71,964.75 343.75,967.00C344.79,969.25 344.79,973.04 346.25,976.00C347.71,978.96 350.21,983.08 352.50,984.75C354.79,986.42 357.50,984.75 360.00,986.00C362.50,987.25 365.00,989.96 367.50,992.25C370.00,994.54 372.08,997.88 375.00,999.75C377.92,1001.62 382.08,1001.83 385.00,1003.50C387.92,1005.17 390.00,1006.83 392.50,1009.75C395.00,1012.67 397.42,1017.54 400.00,1021.00C402.58,1024.46 405.00,1026.50 408.00,1030.50C411.00,1034.50 414.25,1041.33 418.00,1045.00C421.75,1048.67 426.33,1050.00 430.50,1052.50C434.67,1055.00 438.83,1057.92 443.00,1060.00C447.17,1062.08 451.33,1064.17 455.50,1065.00C459.67,1065.83 464.67,1066.25 468.00,1065.00C471.33,1063.75 473.21,1060.21 475.50,1057.50C477.79,1054.79 479.88,1050.42 481.75,1048.75C483.62,1047.08 485.08,1046.88 486.75,1047.50C488.42,1048.12 489.67,1049.17 491.75,1052.50C493.83,1055.83 496.75,1063.33 499.25,1067.50C501.75,1071.67 504.04,1075.71 506.75,1077.50C509.46,1079.29 513.00,1077.83 515.50,1078.25C518.00,1078.67 519.67,1077.83 521.75,1080.00C523.83,1082.17 525.92,1088.12 528.00,1091.25C530.08,1094.38 532.38,1097.50 534.25,1098.75C536.12,1100.00 537.58,1099.79 539.25,1098.75C540.92,1097.71 542.38,1095.21 544.25,1092.50C546.12,1089.79 548.62,1084.38 550.50,1082.50C552.38,1080.62 553.62,1080.21 555.50,1081.25C557.38,1082.29 559.67,1086.96 561.75,1088.75C563.83,1090.54 565.71,1091.58 568.00,1092.00C570.29,1092.42 573.00,1092.21 575.50,1091.25C578.00,1090.29 580.50,1088.12 583.00,1086.25C585.50,1084.38 588.21,1081.46 590.50,1080.00C592.79,1078.54 594.67,1077.50 596.75,1077.50C598.83,1077.50 600.92,1079.79 603.00,1080.00C605.08,1080.21 607.17,1080.42 609.25,1078.75C611.33,1077.08 613.42,1072.38 615.50,1070.00C617.58,1067.62 619.67,1064.92 621.75,1064.50C623.83,1064.08 626.12,1065.54 628.00,1067.50C629.88,1069.46 631.33,1074.38 633.00,1076.25C634.67,1078.12 636.12,1079.17 638.00,1078.75C639.88,1078.33 642.17,1075.83 644.25,1073.75C646.33,1071.67 648.54,1068.29 650.50,1066.25C652.46,1064.21 654.25,1062.12 656.00,1061.50C657.75,1060.88 658.92,1060.88 661.00,1062.50C663.08,1064.12 665.58,1069.58 668.50,1071.25C671.42,1072.92 675.58,1072.79 678.50,1072.50C681.42,1072.21 683.08,1069.92 686.00,1069.50C688.92,1069.08 692.67,1069.08 696.00,1070.00C699.33,1070.92 703.08,1074.38 706.00,1075.00C708.92,1075.62 711.00,1074.50 713.50,1073.75C716.00,1073.00 718.50,1070.08 721.00,1070.50C723.50,1070.92 726.00,1073.83 728.50,1076.25C731.00,1078.67 733.71,1083.96 736.00,1085.00C738.29,1086.04 739.96,1083.75 742.25,1082.50C744.54,1081.25 747.46,1078.12 749.75,1077.50C752.04,1076.88 753.71,1077.08 756.00,1078.75C758.29,1080.42 761.21,1085.00 763.50,1087.50C765.79,1090.00 767.67,1093.75 769.75,1093.75C771.83,1093.75 773.92,1089.58 776.00,1087.50C778.08,1085.42 780.38,1082.58 782.25,1081.25C784.12,1079.92 785.38,1079.08 787.25,1079.50C789.12,1079.92 790.79,1082.00 793.50,1083.75C796.21,1085.50 800.17,1088.46 803.50,1090.00C806.83,1091.54 810.17,1092.58 813.50,1093.00C816.83,1093.42 820.58,1093.42 823.50,1092.50C826.42,1091.58 828.71,1088.83 831.00,1087.50C833.29,1086.17 835.17,1084.71 837.25,1084.50C839.33,1084.29 840.79,1084.71 843.50,1086.25C846.21,1087.79 850.58,1091.88 853.50,1093.75C856.42,1095.62 858.50,1097.50 861.00,1097.50C863.50,1097.50 866.00,1095.21 868.50,1093.75C871.00,1092.29 873.50,1089.58 876.00,1088.75C878.50,1087.92 881.00,1088.12 883.50,1088.75C886.00,1089.38 888.21,1091.25 891.00,1092.50C893.79,1093.75 897.67,1096.25 900.25,1096.25C902.83,1096.25 904.21,1094.17 906.50,1092.50C908.79,1090.83 911.08,1087.58 914.00,1086.25C916.92,1084.92 920.67,1085.04 924.00,1084.50C927.33,1083.96 930.67,1083.67 934.00,1083.00C937.33,1082.33 941.08,1081.21 944.00,1080.50C946.92,1079.79 949.42,1079.67 951.50,1078.75C953.58,1077.83 955.17,1076.12 956.50,1075.00C957.83,1073.88 959.00,1072.50 959.50,1072.00" fill="none" stroke="#ff0000" stroke-width="4.4" stroke-linejoin="round" stroke-linecap="butt"/>
<rect x="734.4" y="517.4" width="238.5" height="81" fill="#fff" stroke="#111" stroke-width="2"/>
<rect x="732.4" y="1226.4" width="249.2" height="80.9" fill="#fff" stroke="#111" stroke-width="2"/>
<text x="155.6" y="36.5" font-size="38.5" fill="#111" text-anchor="end" font-weight="normal" >6</text>
<text x="155.6" y="175.0" font-size="38.5" fill="#111" text-anchor="end" font-weight="normal" >4</text>
<text x="155.6" y="313.7" font-size="38.5" fill="#111" text-anchor="end" font-weight="normal" >2</text>
<text x="155.6" y="452.4" font-size="38.5" fill="#111" text-anchor="end" font-weight="normal" >0</text>
<text x="153.0" y="590.65" font-size="38.5" fill="#111" text-anchor="end" font-weight="normal" >-2</text>
<text x="153.6" y="746.1" font-size="38.5" fill="#111" text-anchor="end" font-weight="normal" >6</text>
<text x="153.6" y="884.7" font-size="38.5" fill="#111" text-anchor="end" font-weight="normal" >4</text>
<text x="153.6" y="1022.8" font-size="38.5" fill="#111" text-anchor="end" font-weight="normal" >2</text>
<text x="153.6" y="1161.3" font-size="38.5" fill="#111" text-anchor="end" font-weight="normal" >0</text>
<text x="153.4" y="1299.8" font-size="38.5" fill="#111" text-anchor="end" font-weight="normal" >-2</text>
<text x="173.3" y="1395.4" font-size="37" fill="#111" text-anchor="middle" font-weight="normal" >0</text>
<text x="322.4" y="1395.4" font-size="37" fill="#111" text-anchor="middle" font-weight="normal" >200</text>
<text x="477.1" y="1395.4" font-size="37" fill="#111" text-anchor="middle" font-weight="normal" >400</text>
<text x="629.4" y="1395.4" font-size="37" fill="#111" text-anchor="middle" font-weight="normal" >600</text>
<text x="783.4" y="1395.4" font-size="37" fill="#111" text-anchor="middle" font-weight="normal" >800</text>
<text x="938.3" y="1395.4" font-size="37" fill="#111" text-anchor="middle" font-weight="normal" >1000</text>
<text x="270.5" y="1465.5" font-size="46.5" fill="#111" textLength="98.4" lengthAdjust="spacingAndGlyphs">Time</text>
<text x="392.5" y="1465.5" font-size="46.5" fill="#111" textLength="91.1" lengthAdjust="spacingAndGlyphs">from</text>
<text x="499.8" y="1465.5" font-size="46.5" fill="#111" textLength="175.7" lengthAdjust="spacingAndGlyphs">saccade</text>
<text x="693.6" y="1465.5" font-size="46.5" fill="#111" text-anchor="start" font-weight="normal" >peak</text>
<text x="814.4" y="1465.5" font-size="46.5" fill="#111" text-anchor="start" font-weight="normal" >(ms)</text>
<text transform="translate(111.3,773.6) rotate(-90)" font-size="46.5" fill="#111" x="0.1 38.6 51.1 74.7 92.5 118.7 144.7 170.5 180.4">Microvolt</text>
<text x="756.0" y="574.6" font-size="46.5" fill="#111" text-anchor="start" font-weight="normal" >Low</text>
<text x="858.6" y="574.6" font-size="46.5" fill="#111" text-anchor="start" font-weight="normal" >load</text>
<text x="750.8" y="1283.8" font-size="46.5" fill="#111" textLength="94.5" lengthAdjust="spacingAndGlyphs">High</text>
<text x="864.9" y="1283.8" font-size="46.5" fill="#111" text-anchor="start" font-weight="normal" >load</text>
<text x="770.9" y="65.5" font-size="35.5" fill="#ff7ade" text-anchor="start" font-weight="normal" stroke="#fff" stroke-width="0.7">Nontarget</text>
<text x="768.9" y="133.2" font-size="35.5" fill="#22c8d2" text-anchor="start" font-weight="normal" stroke="#fff" stroke-width="0.7">Target:</text>
<text x="903.1" y="133.2" font-size="35.5" fill="#2222e6" text-anchor="start" font-weight="normal" stroke="#fff" stroke-width="0.7">Hit</text>
<text x="903.1" y="176.8" font-size="36.4" fill="#ff2222" text-anchor="start" font-weight="normal" stroke="#fff" stroke-width="0.7">Miss</text>
<text transform="translate(24.4,38.7) scale(1.1,1)" font-size="33.2" font-weight="bold" fill="#231f20" stroke="#231f20" stroke-width="0.3">A</text>
<text transform="translate(26.0,740.7) scale(0.95,1)" font-size="34.3" font-weight="bold" fill="#231f20" stroke="#231f20" stroke-width="0.3">B</text>
</svg>
</body></html>
